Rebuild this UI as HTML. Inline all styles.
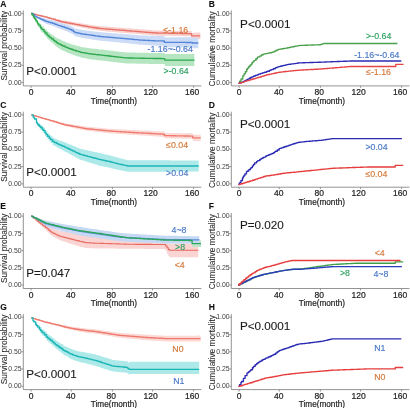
<!DOCTYPE html>
<html><head><meta charset="utf-8"><style>
html,body{margin:0;padding:0;background:#fff;width:410px;height:408px;overflow:hidden}
svg{display:block;font-family:"Liberation Sans",sans-serif;will-change:transform;filter:blur(0.3px)}
</style></head><body>
<svg width="410" height="408" viewBox="0 0 410 408">
<rect width="410" height="408" fill="#fff"/>
<path d="M23.3 10.4V85.9H201.4" fill="none" stroke="#888" stroke-width="0.9"/>
<text x="21.6" y="15.65" font-size="6.9" text-anchor="end" fill="#3d3d3d">1.00</text>
<text x="21.6" y="32.9" font-size="6.9" text-anchor="end" fill="#3d3d3d">0.75</text>
<text x="21.6" y="50.15" font-size="6.9" text-anchor="end" fill="#3d3d3d">0.50</text>
<text x="21.6" y="67.4" font-size="6.9" text-anchor="end" fill="#3d3d3d">0.25</text>
<text x="21.6" y="84.65" font-size="6.9" text-anchor="end" fill="#3d3d3d">0.00</text>
<text x="31.1" y="95" font-size="8.5" text-anchor="middle" fill="#222" stroke="#222" stroke-width="0.2">0</text>
<text x="70.8" y="95" font-size="8.5" text-anchor="middle" fill="#222" stroke="#222" stroke-width="0.2">40</text>
<text x="111.2" y="95" font-size="8.5" text-anchor="middle" fill="#222" stroke="#222" stroke-width="0.2">80</text>
<text x="150.7" y="95" font-size="8.5" text-anchor="middle" fill="#222" stroke="#222" stroke-width="0.2">120</text>
<text x="192.1" y="95" font-size="8.5" text-anchor="middle" fill="#222" stroke="#222" stroke-width="0.2">160</text>
<path d="M21.4 13.6H23.3M21.4 30.85H23.3M21.4 48.1H23.3M21.4 65.35H23.3M21.4 82.6H23.3M31.1 85.9V87.8M71.3 85.9V87.8M112.4 85.9V87.8M152.6 85.9V87.8M193.6 85.9V87.8" fill="none" stroke="#888" stroke-width="0.9"/>
<text x="113.9" y="103.7" font-size="8.2" text-anchor="middle" fill="#1e1e1e" stroke="#1e1e1e" stroke-width="0.2">Time(month)</text>
<text transform="translate(7 45.7) rotate(-90)" font-size="8.3" text-anchor="middle" fill="#2a2a2a" stroke="#2a2a2a" stroke-width="0.08">Survival probability</text>
<text x="0.2" y="6.6" font-size="8.5" font-weight="bold" fill="#111" stroke="#111" stroke-width="0.1">A</text>
<path d="M31.2 13.5H31.97V13.66H33.68V14.01H35.27V14.34H36.2V14.53H37.44V14.79H38.63V15H40.08V15.26H41.7V15.55H42.42V15.67H43.06V15.79H44.75V16.09H45.91V16.34H47.5V16.71H48.1V16.85H49.28V17.13H50.82V17.48H51.72V17.69H53.55V18.11H55.32V18.57H55.96V18.74H56.59V18.91H57.9V19.25H59.72V19.73H60.81V19.94H61.69V20.09H62.84V20.29H63.48V20.4H64.37V20.55H65.54V20.75H66.78V20.96H67.68V21.12H68.58V21.27H69.47V21.43H70.67V21.63H71.64V21.8H72.27V21.91H73.96V22.2H75.28V22.42H76.72V22.67H77.56V22.81H79.45V23.13H81.17V23.43H81.93V23.56H82.96V23.73H84.5V24H86.02V24.25H87.84V24.56H88.99V24.76H90.67V24.98H92.14V25.15H93.13V25.27H94.5V25.44H96.24V25.65H97.94V25.85H99.2V26H100.57V26.14H101.21V26.19H102.13V26.27H103.76V26.39H104.9V26.48H105.73V26.55H107.04V26.65H108.55V26.77H110.03V26.88H111.12V26.97H112.29V27.06H113.55V27.16H115.16V27.28H116.44V27.38H117.55V27.47H118.79V27.57H119.42V27.62H120.08V27.67H121.6V27.79H123.47V27.93H124.84V28.04H125.96V28.13H126.78V28.19H128.03V28.29H129.91V28.43H131.51V28.56H132.81V28.66H134.53V28.79H135.43V28.86H136.7V28.96H138.54V29.1H139.89V29.21H141.08V29.3H142.03V29.37H143.35V29.48H145.19V29.62H145.8V29.67H147.42V29.79H149.08V29.92H150.84V30.06H152.4V30.18H154.05V30.31H155.33V30.39H156.65V30.41H157.81V30.42H158.48V30.43H160.21V30.45H161.55V30.47H162.41V30.48H163.67V30.5H164.9V30.51H165.96V30.53H167.01V30.54H168.31V30.56H169.72V30.57H171.12V30.59H172.32V30.61H172.95V30.61H173.85V30.62H174.68V30.64H176.04V30.66H177.76V30.7H179.4V30.73H181.03V30.77H182.7V30.81H183.63V30.83H185.32V30.86H186.8V30.89H187.51V30.91H188.13V30.92H188.75V30.94H190.33V30.97H191.25V30.92H191.6V32.92H192V32.8H193.41V32.73H194.46V32.68H195.15V32.65H195.95V32.61H197.24V32.55H198.06V32.51H199.01V32.46H200.3V32.4V39.2V39.14H199.01V39.09H198.06V39.05H197.24V38.99H195.95V38.95H195.15V38.92H194.46V38.87H193.41V38.8H192V38.68H191.6V36.47H191.25V36.37H190.33V36.33H188.75V36.31H188.13V36.29H187.51V36.27H186.8V36.23H185.32V36.19H183.63V36.17H182.7V36.12H181.03V36.08H179.4V36.03H177.76V35.99H176.04V35.96H174.68V35.94H173.85V35.93H172.95V35.91H172.32V35.89H171.12V35.87H169.72V35.84H168.31V35.82H167.01V35.8H165.96V35.78H164.9V35.76H163.67V35.74H162.41V35.73H161.55V35.7H160.21V35.67H158.48V35.66H157.81V35.64H156.65V35.62H155.33V35.53H154.05V35.39H152.4V35.26H150.84V35.11H149.08V34.97H147.42V34.83H145.8V34.78H145.19V34.62H143.35V34.51H142.03V34.43H141.08V34.33H139.89V34.21H138.54V34.05H136.7V33.95H135.43V33.87H134.53V33.72H132.81V33.61H131.51V33.47H129.91V33.31H128.03V33.21H126.78V33.13H125.96V33.04H124.84V32.92H123.47V32.76H121.6V32.63H120.08V32.57H119.42V32.52H118.79V32.41H117.55V32.32H116.44V32.21H115.16V32.07H113.55V31.96H112.29V31.86H111.12V31.76H110.03V31.64H108.55V31.51H107.04V31.39H105.73V31.32H104.9V31.22H103.76V31.08H102.13V31H101.21V30.95H100.57V30.77H99.2V30.57H97.94V30.3H96.24V30.02H94.5V29.8H93.13V29.64H92.14V29.4H90.67V29.12H88.99V28.88H87.84V28.5H86.02V28.17H84.5V27.85H82.96V27.63H81.93V27.47H81.17V27.11H79.45V26.72H77.56V26.54H76.72V26.24H75.28V25.96H73.96V25.6H72.27V25.47H71.64V25.26H70.67V25.01H69.47V24.82H68.58V24.63H67.68V24.44H66.78V24.17H65.54V23.93H64.37V23.74H63.48V23.6H62.84V23.36H61.69V23.17H60.81V22.89H59.72V22.21H57.9V21.73H56.59V21.49H55.96V21.25H55.32V20.6H53.55V19.97H51.72V19.66H50.82V19.14H49.28V18.73H48.1V18.52H47.5V17.98H45.91V17.59H44.75V17.11H43.06V16.92H42.42V16.71H41.7V16.24H40.08V15.82H38.63V15.48H37.44V15.09H36.2V14.79H35.27V14.29H33.68V13.75H31.97V13.5H31.2Z" fill="#f9d2cf" stroke="none"/>
<path d="M31.2 13.5H33.04V14.46H34.88V15.42H35.55V15.77H36.26V16.14H37.95V16.67H39.5V17.08H40.97V17.46H41.97V17.72H43.36V18.08H44.75V18.45H46.11V18.83H46.91V19.04H48.07V19.35H49.18V19.64H50.72V20.04H52.62V20.54H54.45V21.06H55.76V21.46H56.94V21.82H57.88V22.11H58.53V22.31H59.17V22.5H60.37V22.86H61.39V23.16H62.48V23.48H64.24V23.99H65.52V24.36H66.85V24.75H67.76V25.03H68.39V25.23H69.41V25.55H70.19V25.85H71.45V26.65H73.35V27.84H74.83V28.67H75.66V28.82H77.43V29.12H79.06V29.4H80.62V29.69H82.39V30.03H83.99V30.23H85.61V30.44H86.67V30.57H88.55V30.81H90.4V31.05H91.21V31.15H92.79V31.35H94.32V31.55H95.52V31.7H96.81V31.86H98.04V32.02H99.85V32.25H101.1V32.35H102.78V32.48H103.84V32.56H105.59V32.69H107.36V32.82H108.56V32.91H109.89V33.01H111.69V33.14H113.23V33.26H114.46V33.35H115.35V33.41H116.37V33.49H117.88V33.6H118.7V33.66H120.48V33.79H121.43V33.87H123.21V34H124.22V34.07H126.06V34.21H127.58V34.33H128.83V34.44H130.11V34.55H131.55V34.67H132.92V34.78H133.92V34.87H134.79V34.94H136.06V35.05H137.87V35.2H139.28V35.32H139.98V35.38H141.65V35.46H143.19V35.52H144.97V35.58H145.82V35.61H147.39V35.67H148.06V35.69H149.51V35.74H150.47V35.78H151.36V35.82H153.1V35.88H153.84V35.91H155.12V35.96H156.83V35.98H157.75V35.99H158.62V36.01H160.37V36.03H161.52V36.04H163.05V36.06H163.69V36.07H164.4V37.38H164.76V37.38H165.58V37.38H167.06V37.38H167.77V37.38H169.61V37.37H170.24V37.37H171.79V37.37H172.42V37.37H173.35V37.37H175.01V37.37H175.81V37.37H176.65V37.37H178.15V37.37H179.25V37.36H179.9V37.36H181.79V37.36H182.59V37.36H183.24V37.36H184.28V37.36H185.68V37.36H187.25V37.36H187.99V37.35H189.03V37.35H189.67V37.35H190.86V37.35H192.3V37.85H192.45V37.85H194.01V37.84H195.79V37.82H197.37V37.81H198.3V37.8V48.2V48.19H197.37V48.18H195.79V48.16H194.01V48.15H192.45V48.15H192.3V47.63H190.86V47.61H189.67V47.6H189.03V47.58H187.99V47.57H187.25V47.55H185.68V47.53H184.28V47.51H183.24V47.5H182.59V47.49H181.79V47.46H179.9V47.45H179.25V47.43H178.15V47.41H176.65V47.4H175.81V47.38H175.01V47.36H173.35V47.34H172.42V47.33H171.79V47.31H170.24V47.3H169.61V47.27H167.77V47.26H167.06V47.24H165.58V47.22H164.76V47.22H164.4V45.9H163.69V45.88H163.05V45.83H161.52V45.8H160.37V45.75H158.62V45.72H157.75V45.7H156.83V45.64H155.12V45.58H153.84V45.54H153.1V45.44H151.36V45.39H150.47V45.33H149.51V45.25H148.06V45.21H147.39V45.12H145.82V45.06H144.97V44.96H143.19V44.87H141.65V44.75H139.98V44.68H139.28V44.53H137.87V44.33H136.06V44.2H134.79V44.1H133.92V43.99H132.92V43.85H131.55V43.69H130.11V43.55H128.83V43.42H127.58V43.26H126.06V43.08H124.22V42.99H123.21V42.81H121.43V42.72H120.48V42.55H118.7V42.47H117.88V42.32H116.37V42.22H115.35V42.14H114.46V42.02H113.23V41.87H111.69V41.69H109.89V41.56H108.56V41.44H107.36V41.27H105.59V41.1H103.84V41H102.78V40.84H101.1V40.71H99.85V40.43H98.04V40.25H96.81V40.05H95.52V39.87H94.32V39.64H92.79V39.41H91.21V39.29H90.4V39.01H88.55V38.73H86.67V38.57H85.61V38.32H83.99V38.08H82.39V37.71H80.62V37.32H79.06V36.9H77.43V36.44H75.66V36.23H74.83V35.27H73.35V33.91H71.45V33.01H70.19V32.64H69.41V32.23H68.39V31.98H67.76V31.62H66.85V31.12H65.52V30.64H64.24V29.98H62.48V29.56H61.39V29.18H60.37V28.72H59.17V28.47H58.53V28.21H57.88V27.84H56.94V27.38H55.76V26.87H54.45V26.19H52.62V25.53H50.72V25H49.18V24.61H48.07V24.21H46.91V23.92H46.11V23.36H44.75V22.49H43.36V21.63H41.97V21H40.97V20.09H39.5V19.12H37.95V17.98H36.26V17.35H35.55V16.75H34.88V15.13H33.04V13.5H31.2Z" fill="#cddcf6" stroke="none"/>
<path d="M31.2 13.5H32.11V14.64H33.42V16.28H34.5V17.63H35.88V19.28H37.3V20.97H37.98V21.79H38.6V22.53H40.29V24.49H41.22V25.44H42.13V26.36H44.02V28.28H45.23V29.51H46.92V31.22H48.14V32.32H49.57V33.34H50.37V33.91H51.79V34.92H53.52V36.15H54.8V37.07H56.37V38.16H57.84V38.87H58.52V39.19H60.11V39.86H61.48V40.45H62.47V40.88H63.11V41.15H64.83V41.9H66.05V42.42H67.58V43.08H69.32V43.66H70.85V44.14H72.65V44.71H73.76V45.06H75.4V45.56H76.58V45.87H78.4V46.36H80.14V46.82H80.87V47.02H81.65V47.17H82.53V47.3H84.38V47.57H85.55V47.75H86.96V47.95H87.96V48.1H89.21V48.28H90.32V48.43H91.37V48.55H92.73V48.7H94.09V48.85H95.87V49.05H97.35V49.21H99.16V49.41H100.88V49.6H102.76V49.82H104.24V49.99H105.05V50.09H106.77V50.29H108.62V50.5H110.4V50.71H111.74V50.86H113.27V51.04H114.14V51.14H115.82V51.34H117.17V51.49H118.14V51.6H118.82V51.68H120.53V51.88H122.42V52.1H123.13V52.18H124.77V52.37H125.91V52.42H126.7V52.43H127.68V52.45H129.28V52.49H131.02V52.52H131.68V52.53H133.07V52.56H133.73V52.57H135.27V52.61H136.3V52.63H138.04V52.66H139.92V52.7H141.17V52.72H143.07V52.76H144.07V52.78H144.77V52.8H146.15V52.82H146.8V52.84H147.65V52.85H148.78V52.88H150.18V52.9H150.98V52.91H151.63V52.92H153.36V52.95H154.37V52.96H156.22V52.98H157.98V53.01H159.07V53.02H160.27V53.04H161.55V53.06H162.98V53.08H164.36V52.91H164.8V54.2H165.69V54.1H167.09V54.1H168.92V54.1H170.17V54.1H171.33V54.1H172.87V54.1H173.78V54.1H174.77V54.1H176.64V54.1H177.92V54.1H179.23V54.1H179.85V54.1H180.99V54.1H182.34V54.1H182.97V54.1H184.37V54.1H185.79V54.1H186.47V54.1H187.88V54.1H189.09V54.1H190.57V54.1H191.63V54.1H193.15V54.1H194.4V54.1V66.1V66.1H193.15V66.1H191.63V66.1H190.57V66.1H189.09V66.1H187.88V66.1H186.47V66.1H185.79V66.1H184.37V66.1H182.97V66.1H182.34V66.1H180.99V66.1H179.85V66.1H179.23V66.1H177.92V66.1H176.64V66.1H174.77V66.1H173.78V66.1H172.87V66.1H171.33V66.1H170.17V66.1H168.92V66.1H167.09V66.1H165.69V66H164.8V64.27H164.36V64.08H162.98V64.06H161.55V64.04H160.27V64.02H159.07V64.01H157.98V63.98H156.22V63.96H154.37V63.95H153.36V63.92H151.63V63.91H150.98V63.9H150.18V63.88H148.78V63.85H147.65V63.84H146.8V63.82H146.15V63.8H144.77V63.78H144.07V63.76H143.07V63.72H141.17V63.7H139.92V63.66H138.04V63.63H136.3V63.61H135.27V63.57H133.73V63.56H133.07V63.53H131.68V63.52H131.02V63.49H129.28V63.45H127.68V63.43H126.7V63.42H125.91V63.37H124.77V63.18H123.13V63.1H122.42V62.88H120.53V62.68H118.82V62.6H118.14V62.49H117.17V62.34H115.82V62.14H114.14V62.04H113.27V61.86H111.74V61.71H110.4V61.5H108.62V61.29H106.77V61.09H105.05V60.99H104.24V60.82H102.76V60.6H100.88V60.41H99.16V60.21H97.35V60.05H95.87V59.85H94.09V59.7H92.73V59.55H91.37V59.43H90.32V59.25H89.21V59H87.96V58.81H86.96V58.54H85.55V58.31H84.38V57.95H82.53V57.78H81.65V57.59H80.87V57.36H80.14V56.82H78.4V56.25H76.58V55.88H75.4V55.3H73.76V54.9H72.65V54.25H70.85V53.7H69.32V53.03H67.58V52.3H66.05V51.72H64.83V50.9H63.11V50.59H62.47V50.12H61.48V49.47H60.11V48.53H58.52V48.08H57.84V47.11H56.37V45.73H54.8V44.59H53.52V43.05H51.79V41.77H50.37V41.06H49.57V39.79H48.14V38.46H46.92V36.45H45.23V35H44.02V32.74H42.13V31.66H41.22V30.54H40.29V27.57H38.6V26.41H37.98V25.13H37.3V22.47H35.88V19.87H34.5V17.79H33.42V15.26H32.11V13.5H31.2Z" fill="#b5e6c1" stroke="none"/>
<path d="M31.2 13.5H31.97V13.7H33.68V14.15H35.27V14.57H36.2V14.81H37.44V15.13H38.63V15.41H40.08V15.75H41.7V16.13H42.42V16.3H43.06V16.45H44.75V16.84H45.91V17.16H47.5V17.62H48.1V17.79H49.28V18.13H50.82V18.57H51.72V18.83H53.55V19.36H55.32V19.91H55.96V20.12H56.59V20.32H57.9V20.73H59.72V21.31H60.81V21.56H61.69V21.72H62.84V21.95H63.48V22.07H64.37V22.24H65.54V22.46H66.78V22.7H67.68V22.87H68.58V23.05H69.47V23.22H70.67V23.45H71.64V23.63H72.27V23.75H73.96V24.08H75.28V24.33H76.72V24.6H77.56V24.76H79.45V25.12H81.17V25.45H81.93V25.6H82.96V25.79H84.5V26.08H86.02V26.38H87.84V26.72H88.99V26.94H90.67V27.19H92.14V27.4H93.13V27.54H94.5V27.73H96.24V27.97H97.94V28.21H99.2V28.39H100.57V28.55H101.21V28.6H102.13V28.67H103.76V28.81H104.9V28.9H105.73V28.97H107.04V29.08H108.55V29.2H110.03V29.32H111.12V29.41H112.29V29.51H113.55V29.61H115.16V29.74H116.44V29.85H117.55V29.94H118.79V30.04H119.42V30.09H120.08V30.15H121.6V30.27H123.47V30.43H124.84V30.54H125.96V30.63H126.78V30.7H128.03V30.8H129.91V30.95H131.51V31.08H132.81V31.19H134.53V31.33H135.43V31.4H136.7V31.51H138.54V31.66H139.89V31.77H141.08V31.87H142.03V31.94H143.35V32.05H145.19V32.2H145.8V32.25H147.42V32.38H149.08V32.52H150.84V32.66H152.4V32.79H154.05V32.92H155.33V33H156.65V33.02H157.81V33.04H158.48V33.05H160.21V33.08H161.55V33.1H162.41V33.11H163.67V33.13H164.9V33.15H165.96V33.16H167.01V33.18H168.31V33.2H169.72V33.22H171.12V33.24H172.32V33.26H172.95V33.27H173.85V33.28H174.68V33.3H176.04V33.33H177.76V33.37H179.4V33.41H181.03V33.45H182.7V33.49H183.63V33.51H185.32V33.55H186.8V33.58H187.51V33.6H188.13V33.62H188.75V33.63H190.33V33.67H191.25V33.69H191.6V35.8H192V35.8H193.41V35.8H194.46V35.8H195.15V35.8H195.95V35.8H197.24V35.8H198.06V35.8H199.01V35.8H200.3V35.8" fill="none" stroke="#e8736a" stroke-width="1.35" stroke-linejoin="round"/>
<path d="M31.2 13.5H33.04V14.8H34.88V16.09H35.55V16.56H36.26V17.06H37.95V17.89H39.5V18.58H40.97V19.23H41.97V19.67H43.36V20.29H44.75V20.9H46.11V21.38H46.91V21.62H48.07V21.98H49.18V22.32H50.72V22.79H52.62V23.37H54.45V23.96H55.76V24.42H56.94V24.83H57.88V25.16H58.53V25.39H59.17V25.61H60.37V26.02H61.39V26.36H62.48V26.73H64.24V27.31H65.52V27.74H66.85V28.19H67.76V28.51H68.39V28.73H69.41V29.09H70.19V29.43H71.45V30.28H73.35V31.56H74.83V32.45H75.66V32.63H77.43V33.01H79.06V33.36H80.62V33.7H82.39V34.05H83.99V34.28H85.61V34.5H86.67V34.65H88.55V34.91H90.4V35.17H91.21V35.28H92.79V35.5H94.32V35.71H95.52V35.88H96.81V36.06H98.04V36.23H99.85V36.48H101.1V36.59H102.78V36.74H103.84V36.83H105.59V36.98H107.36V37.13H108.56V37.23H109.89V37.35H111.69V37.5H113.23V37.64H114.46V37.74H115.35V37.82H116.37V37.91H117.88V38.03H118.7V38.1H120.48V38.26H121.43V38.34H123.21V38.49H124.22V38.58H126.06V38.74H127.58V38.87H128.83V39H130.11V39.12H131.55V39.26H132.92V39.39H133.92V39.49H134.79V39.57H136.06V39.69H137.87V39.87H139.28V40H139.98V40.07H141.65V40.16H143.19V40.24H144.97V40.32H145.82V40.36H147.39V40.44H148.06V40.47H149.51V40.54H150.47V40.58H151.36V40.63H153.1V40.71H153.84V40.74H155.12V40.8H156.83V40.84H157.75V40.86H158.62V40.88H160.37V40.91H161.52V40.94H163.05V40.97H163.69V40.98H164.4V42.3H164.76V42.3H165.58V42.31H167.06V42.32H167.77V42.32H169.61V42.34H170.24V42.34H171.79V42.35H172.42V42.36H173.35V42.36H175.01V42.38H175.81V42.38H176.65V42.39H178.15V42.4H179.25V42.41H179.9V42.41H181.79V42.42H182.59V42.43H183.24V42.44H184.28V42.44H185.68V42.45H187.25V42.46H187.99V42.47H189.03V42.48H189.67V42.48H190.86V42.49H192.3V43H192.45V43H194.01V43H195.79V43H197.37V43H198.3V43" fill="none" stroke="#5585d8" stroke-width="1.35" stroke-linejoin="round"/>
<path d="M31.2 13.5H32.11V14.95H33.42V17.03H34.5V18.75H35.88V20.88H37.3V23.05H37.98V24.1H38.6V25.05H40.29V27.52H41.22V28.55H42.13V29.55H44.02V31.64H45.23V32.98H46.92V34.84H48.14V36.05H49.57V37.2H50.37V37.84H51.79V38.98H53.52V40.37H54.8V41.4H56.37V42.64H57.84V43.47H58.52V43.86H60.11V44.67H61.48V45.29H62.47V45.74H63.11V46.03H64.83V46.81H66.05V47.36H67.58V48.06H69.32V48.68H70.85V49.2H72.65V49.81H73.76V50.18H75.4V50.72H76.58V51.06H78.4V51.59H80.14V52.09H80.87V52.3H81.65V52.48H82.53V52.63H84.38V52.94H85.55V53.14H86.96V53.38H87.96V53.55H89.21V53.77H90.32V53.93H91.37V54.05H92.73V54.2H94.09V54.35H95.87V54.55H97.35V54.71H99.16V54.91H100.88V55.1H102.76V55.32H104.24V55.49H105.05V55.59H106.77V55.79H108.62V56H110.4V56.21H111.74V56.36H113.27V56.54H114.14V56.64H115.82V56.84H117.17V56.99H118.14V57.1H118.82V57.18H120.53V57.38H122.42V57.6H123.13V57.68H124.77V57.87H125.91V57.92H126.7V57.93H127.68V57.95H129.28V57.99H131.02V58.02H131.68V58.03H133.07V58.06H133.73V58.07H135.27V58.11H136.3V58.13H138.04V58.16H139.92V58.2H141.17V58.22H143.07V58.26H144.07V58.28H144.77V58.3H146.15V58.32H146.8V58.34H147.65V58.35H148.78V58.38H150.18V58.4H150.98V58.41H151.63V58.42H153.36V58.45H154.37V58.46H156.22V58.48H157.98V58.51H159.07V58.52H160.27V58.54H161.55V58.56H162.98V58.58H164.36V58.59H164.8V60.1H165.69V60.1H167.09V60.1H168.92V60.1H170.17V60.1H171.33V60.1H172.87V60.1H173.78V60.1H174.77V60.1H176.64V60.1H177.92V60.1H179.23V60.1H179.85V60.1H180.99V60.1H182.34V60.1H182.97V60.1H184.37V60.1H185.79V60.1H186.47V60.1H187.88V60.1H189.09V60.1H190.57V60.1H191.63V60.1H193.15V60.1H194.4V60.1" fill="none" stroke="#2ca94e" stroke-width="1.35" stroke-linejoin="round"/>
<text x="163.3" y="33.1" font-size="8.8" fill="#d4783a" stroke="#d4783a" stroke-width="0.15">≤-1.16</text>
<text x="147.6" y="52.4" font-size="8.8" fill="#4a78c6" stroke="#4a78c6" stroke-width="0.15">-1.16~-0.64</text>
<text x="163.5" y="73.8" font-size="8.8" fill="#2fa062" stroke="#2fa062" stroke-width="0.15">&gt;-0.64</text>
<text x="26.3" y="75.1" font-size="11.7" fill="#1a1a1a" stroke="#1a1a1a" stroke-width="0.1">P&lt;0.0001</text>
<path d="M231.3 10.4V85.9H409.4" fill="none" stroke="#888" stroke-width="0.9"/>
<text x="229.6" y="15.65" font-size="6.9" text-anchor="end" fill="#3d3d3d">1.00</text>
<text x="229.6" y="32.9" font-size="6.9" text-anchor="end" fill="#3d3d3d">0.75</text>
<text x="229.6" y="50.15" font-size="6.9" text-anchor="end" fill="#3d3d3d">0.50</text>
<text x="229.6" y="67.4" font-size="6.9" text-anchor="end" fill="#3d3d3d">0.25</text>
<text x="229.6" y="84.65" font-size="6.9" text-anchor="end" fill="#3d3d3d">0.00</text>
<text x="239.1" y="95" font-size="8.5" text-anchor="middle" fill="#222" stroke="#222" stroke-width="0.2">0</text>
<text x="278.8" y="95" font-size="8.5" text-anchor="middle" fill="#222" stroke="#222" stroke-width="0.2">40</text>
<text x="319.2" y="95" font-size="8.5" text-anchor="middle" fill="#222" stroke="#222" stroke-width="0.2">80</text>
<text x="358.7" y="95" font-size="8.5" text-anchor="middle" fill="#222" stroke="#222" stroke-width="0.2">120</text>
<text x="400.1" y="95" font-size="8.5" text-anchor="middle" fill="#222" stroke="#222" stroke-width="0.2">160</text>
<path d="M229.4 13.6H231.3M229.4 30.85H231.3M229.4 48.1H231.3M229.4 65.35H231.3M229.4 82.6H231.3M239.1 85.9V87.8M279.3 85.9V87.8M320.4 85.9V87.8M360.6 85.9V87.8M401.6 85.9V87.8" fill="none" stroke="#888" stroke-width="0.9"/>
<text x="321.9" y="103.7" font-size="8.2" text-anchor="middle" fill="#1e1e1e" stroke="#1e1e1e" stroke-width="0.2">Time(month)</text>
<text transform="translate(214.9 49) rotate(-90)" font-size="8.3" text-anchor="middle" fill="#2a2a2a" stroke="#2a2a2a" stroke-width="0.08">Cumulative mortality</text>
<text x="208.7" y="6.6" font-size="8.5" font-weight="bold" fill="#111" stroke="#111" stroke-width="0.1">B</text>
<path d="M238.5 83.3H239.69V81.25H241.02V78.95H242.82V75.84H244.02V73.83H245.28V71.73H246.65V69.46H247.49V68.06H248.75V66.49H250.17V64.87H251.8V63H252.52V62.18H253.52V61.16H254.24V60.43H255.89V58.74H257.39V57.29H258.04V56.92H259.92V55.84H261.78V54.79H263.23V54.12H264.63V53.84H265.43V53.69H266.05V53.56H267.34V53.31H268.01V53.18H268.86V53.02H269.78V52.84H270.42V52.71H271.62V52.44H272.79V51.89H274.49V51.1H275.76V50.5H277.19V49.83H278.44V49.4H279.9V49.14H281.1V48.93H282.06V48.76H283.96V48.42H285.85V48.08H287.54V47.77H289.06V47.46H290.07V47.25H290.97V47.06H291.95V46.86H292.64V46.71H294.24V46.38H295.36V46.15H297.06V45.8H298.16V45.57H300.01V45.44H301.71V45.38H302.31V45.36H303.18V45.33H304.96V45.26H306.17V45.21H308.05V45.14H309.17V45.1H309.86V45.08H311.28V45.02H312.89V44.96H313.84V44.93H314.55V44.9H315.59V44.86H317.44V44.8H319.03V44.74H319.78V44.71H320.7V44.42H321.43V44.13H322.11V43.86H323.75V43.5H324.58V43.5H325.9V43.5H327.08V43.5H327.93V43.5H329.48V43.5H330.25V43.5H331.69V43.5H332.44V43.5H333.59V43.5H334.47V43.5H335.42V43.5H337.28V43.5H338.92V43.5H339.92V43.5H341.67V43.5H342.54V43.5H343.66V43.5H345.37V43.5H346.8V43.5H347.53V43.5H349.42V43.5H350.29V43.5H351.23V43.5H352.83V43.5H353.86V43.5H354.85V43.5H355.54V43.5H356.26V43.5H357.62V43.5H358.53V43.5H359.92V43.5H361V43.5H362.19V43.5H364.03V43.5H365.26V43.5H366.61V43.5H368.34V43.5H369.17V43.5H369.98V43.5H371.76V43.5H373.42V43.5H374.34V43.5H375.19V43.5H376.75V43.5H378.57V43.5H379.43V43.5H381.26V43.5H383.01V43.5H384.4V43.5H385.54V43.5H386.28V43.5H386.93V43.5H388.78V43.5H389.69V43.5H391.21V43.5H392.14V43.5H393.81V43.5H395.19V43.5H396.17V43.5H397V43.5H397.4V43.5" fill="none" stroke="#4ba04b" stroke-width="1.35" stroke-linejoin="round"/>
<path d="M238.5 83.3H239.72V82.89H241.17V82.39H242.64V81.89H243.42V81.51H244.04V81.16H245.12V80.55H246.08V80.01H247.73V79.08H249.23V78.24H250.61V77.46H251.94V76.88H253.4V76.29H254.19V75.97H255.36V75.49H256.17V75.16H257.95V74.44H258.63V74.17H260.29V73.63H260.99V73.41H262.48V72.94H263.52V72.61H264.64V72.25H266.34V71.71H266.96V71.49H267.64V71.2H269.43V70.43H270.69V69.89H271.41V69.58H273.3V68.77H275.13V67.99H275.87V67.67H277.02V67.18H277.8V66.84H278.8V66.58H280.21V66.24H281.02V66.04H282.53V65.68H283.2V65.52H284.02V65.32H285.68V64.92H286.8V64.65H287.95V64.42H289.32V64.22H290.54V64.05H291.64V63.89H292.28V63.8H293.82V63.57H295.68V63.31H297.55V63.04H299.01V62.88H300.08V62.85H301.15V62.81H302.65V62.77H304.12V62.72H304.87V62.69H305.78V62.66H306.85V62.63H308.11V62.59H309.77V62.53H311.02V62.49H311.65V62.47H313.32V62.42H314.48V62.38H315.76V62.34H316.64V62.31H317.8V62.27H318.9V62.24H320.51V62.18H321.24V62.15H322.56V62.1H323.39V62.06H324.89V62H325.54V61.98H326.5V61.94H327.55V61.9H328.98V61.84H329.64V61.81H330.84V61.77H331.71V61.73H332.68V61.69H333.9V61.64H335.74V61.57H336.97V61.52H338.81V61.45H339.63V61.41H341.43V61.34H342.5V61.3H343.35V61.27H344.92V61.2H346.71V61.13H347.32V61.11H348.27V61.07H349.87V61.01H350.91V61H351.83V61H352.44V61H353.09V61H354.49V61H356.37V61H358.27V61H359.53V61H360.16V61H361.18V61H362.8V61H364.48V61H365.91V61H366.81V61H368.1V61H369.32V61H370.73V61H371.67V61H373.5V61H375.27V61H376.08V61H377.06V61H378.79V61H379.75V61H381.58V61H382.85V61H384.36V61H385.87V61H386.75V61H387.72V61H388.65V61H390.14V61H391.64V61H392.41V61H394.17V61H395.31V61H396.23V61H397.39V61H399.26V61H400.59V61H401.3V61" fill="none" stroke="#2a2ab4" stroke-width="1.35" stroke-linejoin="round"/>
<path d="M238.5 83.3H239.44V83.02H240.93V82.58H242.42V82.13H244.12V81.62H244.96V81.37H245.86V81.1H246.65V80.87H247.55V80.6H249.1V80.14H249.87V79.91H251.16V79.52H252.04V79.25H253.02V78.96H254.18V78.6H255.87V78.09H257.26V77.67H257.88V77.48H258.84V77.19H259.63V76.95H261.36V76.42H263.02V75.92H264.66V75.42H266.34V74.91H267.91V74.54H269.74V74.15H271.37V73.8H272.31V73.6H274.01V73.23H275.24V72.97H276.83V72.63H278.16V72.37H279.32V72.22H280.39V72.09H281.55V71.94H282.56V71.81H283.31V71.72H284.98V71.51H286.61V71.3H288.49V71.1H289.99V70.97H291.31V70.85H292.89V70.71H293.66V70.64H295.14V70.5H296.32V70.4H297.15V70.32H298.01V70.24H299.29V70.16H300.22V70.1H301.42V70.04H302.8V69.96H303.92V69.9H304.69V69.85H305.93V69.79H306.83V69.73H307.74V69.68H308.59V69.64H309.67V69.58H310.36V69.54H311.81V69.46H313.65V69.35H314.76V69.29H316.29V69.21H318.1V69.11H318.76V69.07H319.54V69.03H321.19V68.9H322.88V68.76H324.31V68.64H325.12V68.57H326.26V68.48H327.99V68.33H329.74V68.19H331.38V68.05H332.25V67.98H333.96V67.84H335.04V67.75H336.57V67.62H337.35V67.55H339.22V67.4H340.6V67.28H342.14V67.16H343.02V67.08H344.42V66.97H345.77V66.85H347.14V66.74H348.21V66.65H349.75V66.52H350.8V66.5H351.78V66.5H352.6V66.5H354.09V66.5H354.83V66.5H355.72V66.5H356.41V66.5H357.85V66.5H359.17V66.5H360.48V66.5H361.13V66.5H362.3V66.5H363.35V66.5H364.07V66.5H364.67V66.5H366.57V66.5H367.33V66.5H368.32V66.5H369.27V66.5H370.65V66.5H371.35V66.5H372.56V66.5H373.63V66.5H375.32V66.5H375.93V66.5H376.96V66.5H378.21V66.5H380.07V66.5H381.34V66.5H382.56V66.5H384.03V66.5H385.01V66.5H385.65V66.5H386.9V66.5H388.69V66.5H390.25V66.5H391.18V66.5H392.67V66.5H394.38V66.5H395.31V66.5H395.8V64.3H396.68V64.3H397.74V64.3H398.66V64.3H399.63V64.3H400.5V64.3H401.55V64.3H402.2V64.3H403.32V64.3H403.5V64.3" fill="none" stroke="#e64545" stroke-width="1.35" stroke-linejoin="round"/>
<text x="366.1" y="39.2" font-size="8.8" fill="#2fa062" stroke="#2fa062" stroke-width="0.15">&gt;-0.64</text>
<text x="354.2" y="57.5" font-size="8.8" fill="#4a78c6" stroke="#4a78c6" stroke-width="0.15">-1.16~-0.64</text>
<text x="366.1" y="74.9" font-size="8.8" fill="#d4783a" stroke="#d4783a" stroke-width="0.15">≤-1.16</text>
<text x="240.1" y="27.6" font-size="11.7" fill="#1a1a1a" stroke="#1a1a1a" stroke-width="0.1">P&lt;0.0001</text>
<path d="M23.3 111.7V187.2H201.4" fill="none" stroke="#888" stroke-width="0.9"/>
<text x="21.6" y="116.95" font-size="6.9" text-anchor="end" fill="#3d3d3d">1.00</text>
<text x="21.6" y="134.2" font-size="6.9" text-anchor="end" fill="#3d3d3d">0.75</text>
<text x="21.6" y="151.45" font-size="6.9" text-anchor="end" fill="#3d3d3d">0.50</text>
<text x="21.6" y="168.7" font-size="6.9" text-anchor="end" fill="#3d3d3d">0.25</text>
<text x="21.6" y="185.95" font-size="6.9" text-anchor="end" fill="#3d3d3d">0.00</text>
<text x="31.1" y="196.3" font-size="8.5" text-anchor="middle" fill="#222" stroke="#222" stroke-width="0.2">0</text>
<text x="70.8" y="196.3" font-size="8.5" text-anchor="middle" fill="#222" stroke="#222" stroke-width="0.2">40</text>
<text x="111.2" y="196.3" font-size="8.5" text-anchor="middle" fill="#222" stroke="#222" stroke-width="0.2">80</text>
<text x="150.7" y="196.3" font-size="8.5" text-anchor="middle" fill="#222" stroke="#222" stroke-width="0.2">120</text>
<text x="192.1" y="196.3" font-size="8.5" text-anchor="middle" fill="#222" stroke="#222" stroke-width="0.2">160</text>
<path d="M21.4 114.9H23.3M21.4 132.15H23.3M21.4 149.4H23.3M21.4 166.65H23.3M21.4 183.9H23.3M31.1 187.2V189.1M71.3 187.2V189.1M112.4 187.2V189.1M152.6 187.2V189.1M193.6 187.2V189.1" fill="none" stroke="#888" stroke-width="0.9"/>
<text x="113.9" y="205" font-size="8.2" text-anchor="middle" fill="#1e1e1e" stroke="#1e1e1e" stroke-width="0.2">Time(month)</text>
<text transform="translate(7 147) rotate(-90)" font-size="8.3" text-anchor="middle" fill="#2a2a2a" stroke="#2a2a2a" stroke-width="0.08">Survival probability</text>
<text x="0.2" y="107.9" font-size="8.5" font-weight="bold" fill="#111" stroke="#111" stroke-width="0.1">C</text>
<path d="M31.3 114.9H32.11V115.11H33.61V115.48H35.04V115.84H36.26V116.15H37.14V116.37H38.77V116.78H40.42V117.2H41.69V117.52H42.94V117.84H43.85V118.06H44.45V118.22H45.54V118.49H46.9V118.84H47.59V119.02H49.22V119.43H50.12V119.66H51.02V119.89H51.68V120.06H53.58V120.54H55.14V120.95H56.87V121.41H58.27V121.78H58.92V121.95H59.95V122.22H61.19V122.55H61.94V122.75H63.78V123.24H64.86V123.44H65.66V123.56H67.32V123.79H68.09V123.9H69.89V124.16H71.08V124.33H72.4V124.52H73.45V124.67H74.68V124.84H75.52V124.96H76.17V125.05H77.89V125.3H78.8V125.43H80.41V125.68H81.28V125.85H83.14V126.2H84.91V126.54H86.49V126.69H88.08V126.84H89.43V126.96H90.98V127.1H91.74V127.17H92.96V127.28H94.64V127.44H95.5V127.52H97.3V127.68H99.05V127.84H100.18V127.95H101.26V128.04H102.44V128.15H103.55V128.25H105.44V128.43H106.54V128.53H107.18V128.58H107.9V128.65H109.43V128.79H111.32V128.91H112.57V128.97H113.81V129.04H115.12V129.11H116.69V129.19H117.58V129.23H118.97V129.3H120.3V129.37H121.71V129.44H122.54V129.49H123.36V129.53H124.42V129.58H126.22V129.68H127.27V129.73H128.65V129.8H129.65V129.85H130.38V129.89H131.07V129.93H132.72V130.01H134.33V130.09H135.42V130.15H136.91V130.22H138.39V130.3H140.16V130.38H142V130.47H143.13V130.53H145.02V130.62H146.87V130.71H148.24V130.78H149.98V130.87H151.22V130.93H152.31V130.99H153.23V131.04H154.97V131.13H155.78V131.17H156.47V131.21H158.12V131.3H159.72V131.38H160.95V131.45H162.64V131.54H163.31V131.57H164.24V131.62H164.4V132.93H165.22V132.94H166.37V132.96H167.19V132.97H167.88V132.98H168.92V132.99H170.69V133.02H172.56V133.04H174.13V133.06H175.36V133.08H176.29V133.09H178.13V133.12H179.41V133.13H180.96V133.15H181.6V133.16H182.47V133.17H184.16V133.2H185.8V133.22H187.54V133.24H188.93V133.26H190.08V133.28H191.44V133.29H192.8V134.86H193.14V134.8H194.14V134.77H195.43V134.74H196.39V134.71H197.99V134.67H198.61V134.65H200.1V134.62H200.7V134.6V141.2V141.18H200.1V141.15H198.61V141.13H197.99V141.09H196.39V141.06H195.43V141.03H194.14V141H193.14V140.94H192.8V138.89H191.44V138.86H190.08V138.83H188.93V138.8H187.54V138.76H185.8V138.72H184.16V138.68H182.47V138.66H181.6V138.65H180.96V138.61H179.41V138.58H178.13V138.54H176.29V138.52H175.36V138.49H174.13V138.46H172.56V138.41H170.69V138.37H168.92V138.35H167.88V138.33H167.19V138.31H166.37V138.29H165.22V138.27H164.4V136.96H164.24V136.9H163.31V136.86H162.64V136.75H160.95V136.68H159.72V136.58H158.12V136.47H156.47V136.43H155.78V136.38H154.97V136.27H153.23V136.21H152.31V136.14H151.22V136.07H149.98V135.95H148.24V135.86H146.87V135.74H145.02V135.61H143.13V135.54H142V135.41H140.16V135.3H138.39V135.2H136.91V135.1H135.42V135.03H134.33V134.92H132.72V134.8H131.07V134.75H130.38V134.7H129.65V134.64H128.65V134.54H127.27V134.47H126.22V134.35H124.42V134.27H123.36V134.22H122.54V134.16H121.71V134.06H120.3V133.97H118.97V133.88H117.58V133.82H116.69V133.71H115.12V133.62H113.81V133.53H112.57V133.45H111.32V133.3H109.43V133.13H107.9V133.05H107.18V132.98H106.54V132.86H105.44V132.66H103.55V132.54H102.44V132.41H101.26V132.29H100.18V132.17H99.05V131.98H97.3V131.78H95.5V131.69H94.64V131.51H92.96V131.37H91.74V131.29H90.98V131.12H89.43V130.98H88.08V130.8H86.49V130.62H84.91V130.26H83.14V129.87H81.28V129.69H80.41V129.33H78.8V129.13H77.89V128.74H76.17V128.59H75.52V128.4H74.68V128.13H73.45V127.89H72.4V127.6H71.08V127.33H69.89V126.92H68.09V126.75H67.32V126.38H65.66V126.2H64.86V125.91H63.78V125.27H61.94V125.01H61.19V124.57H59.95V124.22H58.92V123.99H58.27V123.51H56.87V122.9H55.14V122.37H53.58V121.73H51.68V121.51H51.02V121.21H50.12V120.9H49.22V120.35H47.59V120.12H46.9V119.66H45.54V119.3H44.45V119.1H43.85V118.79H42.94V118.37H41.69V117.95H40.42V117.4H38.77V116.85H37.14V116.56H36.26V116.15H35.04V115.67H33.61V115.17H32.11V114.9H31.3Z" fill="#fcd9d5" stroke="none"/>
<path d="M31.3 114.9H33.15V116.43H33.93V117.09H34.56V118.03H36.46V120.84H37.3V122.09H38.05V123.01H39.5V124.04H40.55V124.9H42.31V126.51H43.21V127.55H45.05V129.99H46.07V131.34H47.45V133.17H49.26V134.89H50.75V136.26H52.55V137.88H54.08V138.5H54.74V138.77H56.48V139.48H57.85V140.02H58.85V140.4H59.7V140.72H61.41V141.37H62.76V141.88H64.58V142.57H66.19V143.18H68.04V143.88H69.38V144.41H70.88V145.04H72.28V145.64H73.22V146.04H75.06V146.84H76.07V147.27H77.68V147.97H79.52V148.76H80.97V149.08H81.75V149.25H83.43V149.62H84.89V149.94H85.73V150.13H86.4V150.27H87.69V150.56H88.33V150.7H90.13V151.1H91.39V151.37H92.66V151.65H93.8V151.9H95.26V152.22H97.05V152.62H98.05V152.84H99.13V153.07H100.49V153.34H101.48V153.57H102.85V153.9H104.16V154.21H105.32V154.49H106.8V154.85H108.08V155.15H108.8V155.33H110.69V155.81H111.75V156.11H112.92V156.44H114.04V156.75H115.85V157.27H117.69V157.78H118.95V158.14H120.07V158.41H120.8V158.57H122.56V158.97H123.38V159.16H124.7V159.45H125.75V159.69H126.78V159.92H127.84V160.16H128.69V160.2H129.34V160.21H130.63V160.21H132.27V160.22H133.71V160.22H134.57V160.23H136.07V160.23H136.74V160.24H137.87V160.24H139.55V160.25H141.35V160.26H142.55V160.26H144.25V160.27H145.5V160.27H146.78V160.28H148.14V160.29H150.03V160.29H151.59V160.3H152.81V160.31H154.35V160.31H155.79V160.32H156.85V160.32H158.47V160.33H160.13V160.34H161.52V160.34H163.35V160.35H163.97V160.35H165.22V160.36H166.65V160.36H167.69V160.37H168.51V160.37H170.01V160.38H171.18V160.38H172.13V160.39H172.78V160.39H174.64V160.4H175.7V160.4H176.45V160.41H177.33V160.41H178.26V160.41H179.99V160.42H180.83V160.42H181.78V160.43H182.51V160.43H183.72V160.44H184.59V160.44H185.64V160.44H187.19V160.45H189V160.46H190.68V160.47H191.33V160.47H192.42V160.47H194.13V160.48H194.77V160.48H195.63V160.49H196.87V160.49H197.97V160.5H198.7V160.5V171.5V171.5H197.97V171.51H196.87V171.51H195.63V171.52H194.77V171.52H194.13V171.53H192.42V171.53H191.33V171.53H190.68V171.54H189V171.55H187.19V171.56H185.64V171.56H184.59V171.56H183.72V171.57H182.51V171.57H181.78V171.58H180.83V171.58H179.99V171.59H178.26V171.59H177.33V171.59H176.45V171.6H175.7V171.6H174.64V171.61H172.78V171.61H172.13V171.62H171.18V171.62H170.01V171.63H168.51V171.63H167.69V171.64H166.65V171.64H165.22V171.65H163.97V171.65H163.35V171.66H161.52V171.66H160.13V171.67H158.47V171.68H156.85V171.68H155.79V171.69H154.35V171.69H152.81V171.7H151.59V171.71H150.03V171.71H148.14V171.72H146.78V171.73H145.5V171.73H144.25V171.74H142.55V171.74H141.35V171.75H139.55V171.76H137.87V171.76H136.74V171.77H136.07V171.77H134.57V171.78H133.71V171.78H132.27V171.79H130.63V171.79H129.34V171.8H128.69V171.77H127.84V171.58H126.78V171.39H125.75V171.19H124.7V170.95H123.38V170.8H122.56V170.48H120.8V170.35H120.07V170.13H118.95V169.83H117.69V169.39H115.85V168.95H114.04V168.68H112.92V168.41H111.75V168.15H110.69V167.75H108.8V167.61H108.08V167.36H106.8V167.06H105.32V166.84H104.16V166.58H102.85V166.31H101.48V166.11H100.49V165.79H99.13V165.45H98.05V165.14H97.05V164.58H95.26V164.12H93.8V163.77H92.66V163.37H91.39V162.98H90.13V162.41H88.33V162.21H87.69V161.8H86.4V161.6H85.73V161.33H84.89V160.87H83.43V160.35H81.75V160.1H80.97V159.65H79.52V158.69H77.68V157.84H76.07V157.31H75.06V156.34H73.22V155.85H72.28V155.12H70.88V154.31H69.38V153.56H68.04V152.55H66.19V151.67H64.58V150.68H62.76V149.94H61.41V149.01H59.7V148.54H58.85V148H57.85V147.23H56.48V146.22H54.74V145.84H54.08V144.97H52.55V143.05H50.75V141.43H49.26V139.41H47.45V137.35H46.07V135.84H45.05V133.08H43.21V131.9H42.31V130H40.55V128.76H39.5V126.89H38.05V125.53H37.3V123.81H36.46V119.9H34.56V118.61H33.93V117.49H33.15V114.9H31.3Z" fill="#ade9e9" stroke="none"/>
<path d="M31.3 114.9H32.11V115.14H33.61V115.58H35.04V116H36.26V116.35H37.14V116.61H38.77V117.09H40.42V117.57H41.69V117.95H42.94V118.31H43.85V118.58H44.45V118.76H45.54V119.08H46.9V119.48H47.59V119.68H49.22V120.17H50.12V120.43H51.02V120.7H51.68V120.89H53.58V121.46H55.14V121.93H56.87V122.46H58.27V122.89H58.92V123.08H59.95V123.4H61.19V123.78H61.94V124.01H63.78V124.57H64.86V124.82H65.66V124.97H67.32V125.27H68.09V125.41H69.89V125.74H71.08V125.96H72.4V126.21H73.45V126.4H74.68V126.62H75.52V126.78H76.17V126.9H77.89V127.21H78.8V127.38H80.41V127.68H81.28V127.86H83.14V128.23H84.91V128.58H86.49V128.75H88.08V128.91H89.43V129.04H90.98V129.2H91.74V129.27H92.96V129.4H94.64V129.56H95.5V129.65H97.3V129.83H99.05V130.01H100.18V130.12H101.26V130.23H102.44V130.34H103.55V130.45H105.44V130.64H106.54V130.75H107.18V130.82H107.9V130.89H109.43V131.04H111.32V131.18H112.57V131.25H113.81V131.33H115.12V131.41H116.69V131.5H117.58V131.55H118.97V131.64H120.3V131.72H121.71V131.8H122.54V131.85H123.36V131.9H124.42V131.96H126.22V132.07H127.27V132.14H128.65V132.22H129.65V132.28H130.38V132.32H131.07V132.36H132.72V132.46H134.33V132.56H135.42V132.62H136.91V132.71H138.39V132.8H140.16V132.9H142V133H143.13V133.07H145.02V133.18H146.87V133.29H148.24V133.37H149.98V133.47H151.22V133.54H152.31V133.6H153.23V133.65H154.97V133.75H155.78V133.8H156.47V133.84H158.12V133.94H159.72V134.03H160.95V134.1H162.64V134.2H163.31V134.24H164.24V134.29H164.4V135.6H165.22V135.61H166.37V135.64H167.19V135.65H167.88V135.66H168.92V135.68H170.69V135.71H172.56V135.75H174.13V135.78H175.36V135.8H176.29V135.82H178.13V135.85H179.41V135.87H180.96V135.9H181.6V135.91H182.47V135.93H184.16V135.96H185.8V135.99H187.54V136.02H188.93V136.05H190.08V136.07H191.44V136.09H192.8V137.9H193.14V137.9H194.14V137.9H195.43V137.9H196.39V137.9H197.99V137.9H198.61V137.9H200.1V137.9H200.7V137.9" fill="none" stroke="#ee7a6d" stroke-width="1.35" stroke-linejoin="round"/>
<path d="M31.3 114.9H33.15V116.96H33.93V117.85H34.56V118.97H36.46V122.32H37.3V123.81H38.05V124.95H39.5V126.4H40.55V127.45H42.31V129.21H43.21V130.31H45.05V132.92H46.07V134.35H47.45V136.29H49.26V138.16H50.75V139.65H52.55V141.43H54.08V142.17H54.74V142.5H56.48V143.35H57.85V144.01H58.85V144.47H59.7V144.86H61.41V145.65H62.76V146.28H64.58V147.12H66.19V147.86H68.04V148.72H69.38V149.36H70.88V150.08H72.28V150.75H73.22V151.19H75.06V152.08H76.07V152.56H77.68V153.33H79.52V154.21H80.97V154.59H81.75V154.8H83.43V155.25H84.89V155.64H85.73V155.86H86.4V156.04H87.69V156.38H88.33V156.55H90.13V157.04H91.39V157.37H92.66V157.71H93.8V158.01H95.26V158.4H97.05V158.88H98.05V159.15H99.13V159.43H100.49V159.73H101.48V159.94H102.85V160.24H104.16V160.53H105.32V160.78H106.8V161.1H108.08V161.38H108.8V161.54H110.69V161.98H111.75V162.26H112.92V162.56H114.04V162.85H115.85V163.33H117.69V163.8H118.95V164.14H120.07V164.38H120.8V164.53H122.56V164.89H123.38V165.06H124.7V165.32H125.75V165.54H126.78V165.75H127.84V165.97H128.69V166H129.34V166H130.63V166H132.27V166H133.71V166H134.57V166H136.07V166H136.74V166H137.87V166H139.55V166H141.35V166H142.55V166H144.25V166H145.5V166H146.78V166H148.14V166H150.03V166H151.59V166H152.81V166H154.35V166H155.79V166H156.85V166H158.47V166H160.13V166H161.52V166H163.35V166H163.97V166H165.22V166H166.65V166H167.69V166H168.51V166H170.01V166H171.18V166H172.13V166H172.78V166H174.64V166H175.7V166H176.45V166H177.33V166H178.26V166H179.99V166H180.83V166H181.78V166H182.51V166H183.72V166H184.59V166H185.64V166H187.19V166H189V166H190.68V166H191.33V166H192.42V166H194.13V166H194.77V166H195.63V166H196.87V166H197.97V166H198.7V166" fill="none" stroke="#1cb5b5" stroke-width="1.35" stroke-linejoin="round"/>
<text x="166.1" y="147.9" font-size="8.8" fill="#d4783a" stroke="#d4783a" stroke-width="0.15">≤0.04</text>
<text x="166.1" y="176.3" font-size="8.8" fill="#4a78c6" stroke="#4a78c6" stroke-width="0.15">&gt;0.04</text>
<text x="26.3" y="176.1" font-size="11.7" fill="#1a1a1a" stroke="#1a1a1a" stroke-width="0.1">P&lt;0.0001</text>
<path d="M231.3 111.7V187.2H409.4" fill="none" stroke="#888" stroke-width="0.9"/>
<text x="229.6" y="116.95" font-size="6.9" text-anchor="end" fill="#3d3d3d">1.00</text>
<text x="229.6" y="134.2" font-size="6.9" text-anchor="end" fill="#3d3d3d">0.75</text>
<text x="229.6" y="151.45" font-size="6.9" text-anchor="end" fill="#3d3d3d">0.50</text>
<text x="229.6" y="168.7" font-size="6.9" text-anchor="end" fill="#3d3d3d">0.25</text>
<text x="229.6" y="185.95" font-size="6.9" text-anchor="end" fill="#3d3d3d">0.00</text>
<text x="239.1" y="196.3" font-size="8.5" text-anchor="middle" fill="#222" stroke="#222" stroke-width="0.2">0</text>
<text x="278.8" y="196.3" font-size="8.5" text-anchor="middle" fill="#222" stroke="#222" stroke-width="0.2">40</text>
<text x="319.2" y="196.3" font-size="8.5" text-anchor="middle" fill="#222" stroke="#222" stroke-width="0.2">80</text>
<text x="358.7" y="196.3" font-size="8.5" text-anchor="middle" fill="#222" stroke="#222" stroke-width="0.2">120</text>
<text x="400.1" y="196.3" font-size="8.5" text-anchor="middle" fill="#222" stroke="#222" stroke-width="0.2">160</text>
<path d="M229.4 114.9H231.3M229.4 132.15H231.3M229.4 149.4H231.3M229.4 166.65H231.3M229.4 183.9H231.3M239.1 187.2V189.1M279.3 187.2V189.1M320.4 187.2V189.1M360.6 187.2V189.1M401.6 187.2V189.1" fill="none" stroke="#888" stroke-width="0.9"/>
<text x="321.9" y="205" font-size="8.2" text-anchor="middle" fill="#1e1e1e" stroke="#1e1e1e" stroke-width="0.2">Time(month)</text>
<text transform="translate(214.9 150.3) rotate(-90)" font-size="8.3" text-anchor="middle" fill="#2a2a2a" stroke="#2a2a2a" stroke-width="0.08">Cumulative mortality</text>
<text x="208.7" y="107.9" font-size="8.5" font-weight="bold" fill="#111" stroke="#111" stroke-width="0.1">D</text>
<path d="M238.5 184.6H239.12V183.57H239.86V182.31H240.97V180.45H242.46V177.98H243.24V176.69H243.99V175.45H244.89V173.93H246.47V171.6H247.27V170.95H248.83V169.68H250.29V168.49H251.07V167.55H252.36V165.89H253.55V164.38H254.68V162.92H256.58V161.59H257.3V161.09H257.92V160.65H259.75V159.46H260.87V158.81H261.73V158.31H262.76V157.71H263.83V157.08H265.67V156.11H266.55V155.73H267.43V155.35H268.79V154.76H270.1V154.19H271.94V153.39H273.63V152.57H274.69V151.82H275.56V151.21H277.25V150.02H279.13V148.69H279.77V148.37H281.33V147.84H283.06V147.26H284.5V146.76H285.39V146.46H287.02V145.91H288.57V145.38H289.42V145.1H290.86V144.63H291.74V144.34H292.39V144.13H293.43V143.79H294.47V143.45H295.58V143.09H297.02V142.62H298.71V142.29H300.56V142.09H302.43V141.88H304.32V141.67H305.95V141.52H306.94V141.43H307.77V141.36H309.18V141.24H310.49V141.13H311.97V141H312.69V140.94H313.54V140.87H315.34V140.72H316.72V140.6H318.23V140.47H318.95V140.41H320.07V140.31H321.85V140.13H323.3V139.92H325.19V139.64H326.04V139.51H327.23V139.34H328.87V139.09H330.05V138.92H331.68V138.68H333.01V138.6H333.76V138.6H334.49V138.6H336.37V138.6H337.12V138.6H337.97V138.6H339.01V138.6H340.54V138.6H342.25V138.6H343.47V138.6H344.71V138.6H346.34V138.6H347.3V138.6H348.38V138.6H349.78V138.6H351.21V138.6H351.86V138.6H352.6V138.6H353.38V138.6H354.93V138.6H356.43V138.6H358.29V138.6H359.89V138.6H360.82V138.6H362.42V138.6H364.3V138.6H365.35V138.6H365.96V138.6H367.05V138.6H368.02V138.6H368.85V138.6H369.51V138.6H370.27V138.6H371.99V138.6H372.66V138.6H374.06V138.6H374.93V138.6H375.78V138.6H377.44V138.6H378.43V138.6H379.27V138.6H380.46V138.6H381.97V138.6H383.25V138.6H384.96V138.6H386.09V138.6H387.37V138.6H388.9V138.6H390.1V138.6H391.63V138.6H392.84V138.6H393.61V138.6H394.37V138.6H395.99V138.6H397.56V138.6H399.39V138.6H400.88V138.6H401.9V138.6" fill="none" stroke="#2a2ab4" stroke-width="1.35" stroke-linejoin="round"/>
<path d="M238.5 184.6H239.2V184.38H240.08V184.1H241.07V183.79H242.84V183.24H244.09V182.85H245.62V182.38H246.35V182.16H247.62V181.77H249.31V181.25H250.59V180.86H252.42V180.29H254.17V179.71H255.25V179.35H255.85V179.15H257.43V178.62H258.2V178.37H258.81V178.16H260.36V177.65H262.05V177.08H263.74V176.52H265.58V176.02H266.44V175.91H267.15V175.81H267.91V175.71H269.78V175.46H270.52V175.36H271.33V175.25H271.96V175.17H272.62V175.08H273.27V174.99H274.33V174.8H275.14V174.65H276.14V174.48H277.95V174.15H278.77V174.01H280.43V173.71H281.99V173.43H283.33V173.2H284.67V173.07H286.28V172.91H287.64V172.78H288.54V172.7H289.57V172.6H290.48V172.51H291.6V172.4H293.49V172.22H294.64V172.11H295.33V172.05H296.55V171.93H298.21V171.77H299.39V171.66H300.9V171.51H301.62V171.43H302.3V171.36H303.76V171.21H304.42V171.14H305.42V171.04H306.52V170.93H307.37V170.84H308.01V170.77H308.62V170.71H310.46V170.52H311.96V170.37H313.79V170.18H315.03V170.05H316.87V169.86H318.59V169.68H320V169.54H321.28V169.41H322.54V169.28H323.43V169.18H324.52V169.07H326.06V168.91H326.92V168.82H328.62V168.65H329.88V168.52H331.27V168.38H332.94V168.27H334.38V168.21H335.16V168.18H336.08V168.15H336.68V168.13H337.32V168.1H339.15V168.03H340.52V167.98H342.38V167.91H344V167.85H345.01V167.82H346.87V167.75H348.67V167.68H349.86V167.64H350.57V167.61H351.58V167.57H352.4V167.54H353.47V167.5H354.18V167.48H355.71V167.42H357.58V167.35H358.45V167.32H360.07V167.26H361.43V167.21H362.66V167.16H364.44V167.1H365.53V167.05H367.19V167H367.84V167H369.69V167H370.53V167H371.14V167H372.88V167H374.42V167H375.9V167H377.49V167H378.58V167H379.33V167H380.35V167H382.19V167H384.06V167H384.96V167H386.13V167H387.32V167H389.1V167H389.7V167H391.38V167H392.31V167H393.62V167H394.39V167H395.1V167H395.2V165.4H396.85V165.4H398.1V165.4H399.97V165.4H401.69V165.4H403.2V165.4" fill="none" stroke="#e63c3c" stroke-width="1.35" stroke-linejoin="round"/>
<text x="365.4" y="149.8" font-size="8.8" fill="#4a78c6" stroke="#4a78c6" stroke-width="0.15">&gt;0.04</text>
<text x="365.4" y="177.4" font-size="8.8" fill="#d4783a" stroke="#d4783a" stroke-width="0.15">≤0.04</text>
<text x="240" y="128.2" font-size="11.7" fill="#1a1a1a" stroke="#1a1a1a" stroke-width="0.1">P&lt;0.0001</text>
<path d="M23.3 213V288.5H201.4" fill="none" stroke="#888" stroke-width="0.9"/>
<text x="21.6" y="218.25" font-size="6.9" text-anchor="end" fill="#3d3d3d">1.00</text>
<text x="21.6" y="235.5" font-size="6.9" text-anchor="end" fill="#3d3d3d">0.75</text>
<text x="21.6" y="252.75" font-size="6.9" text-anchor="end" fill="#3d3d3d">0.50</text>
<text x="21.6" y="270" font-size="6.9" text-anchor="end" fill="#3d3d3d">0.25</text>
<text x="21.6" y="287.25" font-size="6.9" text-anchor="end" fill="#3d3d3d">0.00</text>
<text x="31.1" y="297.6" font-size="8.5" text-anchor="middle" fill="#222" stroke="#222" stroke-width="0.2">0</text>
<text x="70.8" y="297.6" font-size="8.5" text-anchor="middle" fill="#222" stroke="#222" stroke-width="0.2">40</text>
<text x="111.2" y="297.6" font-size="8.5" text-anchor="middle" fill="#222" stroke="#222" stroke-width="0.2">80</text>
<text x="150.7" y="297.6" font-size="8.5" text-anchor="middle" fill="#222" stroke="#222" stroke-width="0.2">120</text>
<text x="192.1" y="297.6" font-size="8.5" text-anchor="middle" fill="#222" stroke="#222" stroke-width="0.2">160</text>
<path d="M21.4 216.2H23.3M21.4 233.45H23.3M21.4 250.7H23.3M21.4 267.95H23.3M21.4 285.2H23.3M31.1 288.5V290.4M71.3 288.5V290.4M112.4 288.5V290.4M152.6 288.5V290.4M193.6 288.5V290.4" fill="none" stroke="#888" stroke-width="0.9"/>
<text x="113.9" y="306.3" font-size="8.2" text-anchor="middle" fill="#1e1e1e" stroke="#1e1e1e" stroke-width="0.2">Time(month)</text>
<text transform="translate(7 248.3) rotate(-90)" font-size="8.3" text-anchor="middle" fill="#2a2a2a" stroke="#2a2a2a" stroke-width="0.08">Survival probability</text>
<text x="0.2" y="209.2" font-size="8.5" font-weight="bold" fill="#111" stroke="#111" stroke-width="0.1">E</text>
<path d="M31.2 216.1H32.3V216.71H33.2V217.21H34.01V217.67H35.8V218.66H37.15V219.41H38.65V220.1H39.97V220.71H41.07V221.21H42.62V221.93H43.97V222.55H45.58V223.44H47.04V224.52H48.73V225.76H49.9V226.62H50.71V227.21H51.5V227.7H53.04V228.35H53.86V228.7H55.31V229.32H56.72V229.92H57.39V230.21H59.01V230.9H59.66V231.06H61.38V231.33H63.08V231.61H63.96V231.75H65.5V232H67.05V232.25H67.82V232.37H69.29V232.61H70.05V232.74H71.83V233.03H73.33V233.28H75.2V233.59H75.87V233.69H76.89V233.84H78.29V234.06H79.68V234.27H80.52V234.46H82.27V234.93H83.97V235.38H84.97V235.65H85.76V235.79H87.22V235.93H88.35V236.04H89.82V236.17H91.06V236.29H92.17V236.39H92.8V236.45H93.57V236.52H94.77V236.63H96.32V236.73H97.47V236.8H99.04V236.89H100.34V236.97H102.08V237.07H103.54V237.16H104.55V237.22H105.33V237.27H106.02V237.31H106.67V237.35H108.39V237.45H110.13V237.56H111.71V237.66H112.45V237.7H113.91V237.79H114.67V237.84H116.43V237.95H117.88V238.04H119.46V238.14H120.85V238.23H121.99V238.3H123.69V238.41H125.54V238.52H126.46V238.58H127.63V238.65H129.18V238.75H130.66V238.81H131.8V238.84H132.98V238.86H134.84V238.9H135.8V238.92H136.67V238.94H138.17V238.97H139.13V238.98H140.89V239.02H141.92V239.04H143.72V239.08H144.81V239.1H146.56V239.14H148.14V239.17H149.69V239.2H150.57V239.22H151.38V239.23H152.02V239.25H152.86V239.26H154.33V239.29H155.01V239.31H155.92V239.32H157.25V239.35H158.06V239.37H159.08V239.39H159.98V239.41H161.46V239.44H162.21V239.45H164.11V239.49H165.49V240.39H167.02V241.92H168.33V243.23H169.58V243.69H171.44V243.67H173.21V243.66H174.87V243.64H175.51V243.63H176.88V243.62H178.7V243.6H180.13V243.58H181.4V243.57H182.84V243.56H183.67V243.55H185.22V243.53H186.84V243.52H187.53V243.51H188.8V243.5H190.17V243.48H191.23V243.47H192.71V243.46H194.51V243.44H196.29V243.42H197.29V243.41H198.09V243.4H198.3V243.4V257.2V257.2H198.09V257.2H197.29V257.2H196.29V257.2H194.51V257.2H192.71V257.2H191.23V257.2H190.17V257.2H188.8V257.2H187.53V257.2H186.84V257.2H185.22V257.2H183.67V257.2H182.84V257.2H181.4V257.2H180.13V257.2H178.7V257.2H176.88V257.2H175.51V257.2H174.87V257.2H173.21V257.2H171.44V257.2H169.58V256.29H168.33V253.72H167.02V250.74H165.49V249H164.11V248.99H162.21V248.98H161.46V248.97H159.98V248.97H159.08V248.96H158.06V248.96H157.25V248.95H155.92V248.94H155.01V248.94H154.33V248.93H152.86V248.93H152.02V248.92H151.38V248.92H150.57V248.91H149.69V248.9H148.14V248.9H146.56V248.89H144.81V248.88H143.72V248.87H141.92V248.86H140.89V248.85H139.13V248.85H138.17V248.84H136.67V248.83H135.8V248.83H134.84V248.82H132.98V248.81H131.8V248.8H130.66V248.79H129.18V248.77H127.63V248.76H126.46V248.74H125.54V248.72H123.69V248.7H121.99V248.69H120.85V248.67H119.46V248.65H117.88V248.63H116.43V248.61H114.67V248.6H113.91V248.58H112.45V248.57H111.71V248.55H110.13V248.53H108.39V248.51H106.67V248.51H106.02V248.5H105.33V248.49H104.55V248.48H103.54V248.47H102.08V248.45H100.34V248.44H99.04V248.42H97.47V248.41H96.32V248.39H94.77V248.34H93.57V248.31H92.8V248.28H92.17V248.23H91.06V248.18H89.82V248.12H88.35V248.07H87.22V248.01H85.76V247.9H84.97V247.68H83.97V247.31H82.27V246.93H80.52V246.72H79.68V246.29H78.29V245.85H76.89V245.54H75.87V245.33H75.2V244.73H73.33V244.25H71.83V243.68H70.05V243.43H69.29V242.96H67.82V242.71H67.05V242.22H65.5V241.73H63.96V241.45H63.08V240.91H61.38V240.36H59.66V240.1H59.01V239.16H57.39V238.76H56.72V237.94H55.31V237.09H53.86V236.62H53.04V235.72H51.5V235.1H50.71V234.39H49.9V233.34H48.73V231.84H47.04V230.54H45.58V229.02H43.97V227.72H42.62V226.22H41.07V225.16H39.97V223.88H38.65V222.43H37.15V221H35.8V219.09H34.01V218.22H33.2V217.27H32.3V216.1H31.2Z" fill="#fad3d3" stroke="none"/>
<path d="M31.2 216.1H31.85V216.37H33.36V217H34.14V217.33H35.34V217.83H36.82V218.44H38.45V219.12H39.64V219.61H40.88V220.13H41.51V220.4H42.67V220.88H43.76V221.33H45.46V221.95H46.77V222.18H48.36V222.45H49.52V222.66H50.35V222.82H52.06V223.24H53.72V223.64H54.81V223.91H55.54V224.08H56.8V224.39H58.05V224.69H59.65V225.08H61.03V225.42H62.29V225.71H63.63V225.97H64.72V226.17H65.39V226.3H66.07V226.43H67.89V226.77H69.58V227.09H70.57V227.28H72.32V227.61H73.6V227.85H74.33V227.99H76.05V228.31H77.41V228.57H79.22V228.91H80.7V229.1H81.42V229.19H82.83V229.37H84.46V229.58H86.23V229.81H87.26V229.94H88.54V230.11H90.06V230.3H90.87V230.41H92.58V230.62H94.19V230.83H94.86V230.92H96.22V231.09H97.3V231.23H98.14V231.34H99.53V231.54H101.39V231.82H102.71V232.01H103.46V232.13H104.7V232.31H106.31V232.56H108.15V232.83H109.68V233.06H110.34V233.16H112.19V233.44H113.58V233.65H114.28V233.75H115.05V233.87H115.76V233.97H117.23V234.19H118.03V234.31H119.68V234.56H120.42V234.67H121.71V234.87H122.89V235.04H123.54V235.14H124.14V235.23H125.92V235.5H127.79V235.72H128.55V235.76H130.1V235.85H131.99V235.95H133.76V236.05H135.51V236.14H136.55V236.2H138.09V236.28H139.33V236.35H141.15V236.45H142.67V236.53H144.36V236.63H146.08V236.72H147.18V236.78H148.7V236.86H149.43V236.9H150.29V236.95H152.11V237.04H153.24V237.1H154.73V237.18H156.08V237.25H157.01V237.29H158.38V237.36H160.16V237.46H161.19V237.51H162.24V237.56H163.08V237.61H163.91V237.65H165.59V237.74H167.11V237.79H168.96V237.8H170.43V237.82H172.28V237.83H173.17V237.84H174.01V237.85H174.89V237.85H175.99V237.86H177.88V237.88H178.77V237.89H179.96V237.9H180.64V237.9H181.28V237.91H182.59V237.92H183.99V237.93H185.25V237.94H187.04V237.96H188.76V237.97H190.6V237.99H191.95V238H192.1V240.3H192.89V240.29H193.66V240.28H195.25V240.26H196.05V240.26H196.66V240.25H198.17V240.23H198.93V240.22H200.34V240.21H201V240.2V247V246.99H200.34V246.98H198.93V246.97H198.17V246.95H196.66V246.94H196.05V246.94H195.25V246.92H193.66V246.91H192.89V246.9H192.1V243H191.95V242.97H190.6V242.92H188.76V242.89H187.04V242.84H185.25V242.82H183.99V242.78H182.59V242.75H181.28V242.74H180.64V242.72H179.96V242.7H178.77V242.68H177.88V242.63H175.99V242.61H174.89V242.59H174.01V242.57H173.17V242.55H172.28V242.51H170.43V242.47H168.96V242.43H167.11V242.36H165.59V242.25H163.91V242.19H163.08V242.14H162.24V242.07H161.19V242H160.16V241.88H158.38V241.79H157.01V241.73H156.08V241.64H154.73V241.55H153.24V241.47H152.11V241.35H150.29V241.3H149.43V241.25H148.7V241.16H147.18V241.09H146.08V240.98H144.36V240.88H142.67V240.78H141.15V240.67H139.33V240.59H138.09V240.49H136.55V240.43H135.51V240.32H133.76V240.21H131.99V240.09H130.1V239.99H128.55V239.95H127.79V239.71H125.92V239.43H124.14V239.33H123.54V239.23H122.89V239.04H121.71V238.84H120.42V238.72H119.68V238.46H118.03V238.33H117.23V238.1H115.76V237.99H115.05V237.87H114.28V237.75H113.58V237.54H112.19V237.24H110.34V237.14H109.68V236.9H108.15V236.61H106.31V236.35H104.7V236.15H103.46V236.04H102.71V235.83H101.39V235.53H99.53V235.3H98.14V235.18H97.3V235.02H96.22V234.81H94.86V234.72H94.19V234.48H92.58V234.22H90.87V234.1H90.06V233.88H88.54V233.69H87.26V233.53H86.23V233.27H84.46V233.03H82.83V232.82H81.42V232.71H80.7V232.49H79.22V232.12H77.41V231.83H76.05V231.48H74.33V231.32H73.6V231.06H72.32V230.69H70.57V230.48H69.58V230.13H67.89V229.75H66.07V229.61H65.39V229.47H64.72V229.24H63.63V228.96H62.29V228.64H61.03V228.28H59.65V227.86H58.05V227.53H56.8V227.19H55.54V227H54.81V226.72H53.72V226.28H52.06V225.83H50.35V225.58H49.52V225.19H48.36V224.67H46.77V224.23H45.46V223.33H43.76V222.71H42.67V222.04H41.51V221.68H40.88V220.96H39.64V220.28H38.45V219.34H36.82V218.49H35.34V217.8H34.14V217.34H33.36V216.47H31.85V216.1H31.2Z" fill="#bfe6cc" stroke="none"/>
<path d="M31.2 216.1H32.63V216.56H33.26V216.76H34.22V217.07H35.11V217.36H36.67V217.86H38.15V218.34H39.91V218.91H40.62V219.14H41.77V219.51H42.41V219.71H43.29V220H44.55V220.4H45.18V220.61H46.04V220.79H47.49V221.1H48.8V221.37H49.68V221.56H51.05V221.85H52.7V222.19H53.31V222.32H54.96V222.67H56.46V222.98H57.51V223.2H58.31V223.37H60.15V223.76H61.19V223.97H61.91V224.13H62.64V224.25H64.34V224.53H65.72V224.75H67.37V225.02H68.92V225.27H70.22V225.48H72.08V225.78H73.18V225.96H74.49V226.17H76.17V226.44H77.58V226.67H79.3V226.94H80.65V227.12H82.16V227.35H82.82V227.45H83.72V227.59H84.69V227.74H85.4V227.85H86.3V227.98H87.03V228.1H87.99V228.24H89.42V228.46H90.49V228.63H91.58V228.79H92.45V228.93H93.4V229.07H95.21V229.35H96.66V229.57H98.05V229.78H98.87V229.91H100.42V230.14H101.23V230.26H102.32V230.42H104.21V230.71H105.64V230.92H106.97V231.12H108.46V231.34H110.15V231.6H111.76V231.84H112.66V231.97H113.3V232.07H114.31V232.22H115.26V232.36H116.13V232.49H117.96V232.77H119.7V233.03H120.71V233.11H122.16V233.2H123.27V233.27H125.06V233.37H126.26V233.45H127.2V233.5H128.12V233.56H129.45V233.64H130.39V233.69H131.75V233.77H133.52V233.88H134.64V233.95H135.53V234H137.42V234.11H138.68V234.19H139.4V234.23H140.06V234.27H140.81V234.31H142.22V234.4H143.85V234.5H145V234.56H145.68V234.6H146.78V234.67H148.67V234.78H149.96V234.86H151.82V234.98H153.54V235.09H154.16V235.13H155.7V235.22H157.18V235.32H158.48V235.4H159.43V235.46H160.86V235.55H161.61V235.6H162.77V235.62H163.96V235.64H165.8V235.67H167.54V235.71H168.48V235.72H169.73V235.75H170.56V235.76H172.35V235.8H174.08V235.83H175.07V235.85H176.5V235.87H177.89V235.9H178.69V235.92H180.28V235.95H181.58V235.97H183.2V236H184.49V236.02H185.09V236.04H186.11V236.05H186.73V236.07H188.54V236.1H190.28V236.13H191.96V236.16H192.96V236.18H193.64V236.2H195.38V236.23H197.21V236.26H197.92V236.28H199.15V236.3H199.2V236.3V243.5V243.5H199.15V243.5H197.92V243.5H197.21V243.49H195.38V243.49H193.64V243.48H192.96V243.48H191.96V243.48H190.28V243.47H188.54V243.47H186.73V243.47H186.11V243.46H185.09V243.46H184.49V243.46H183.2V243.46H181.58V243.45H180.28V243.45H178.69V243.45H177.89V243.44H176.5V243.44H175.07V243.44H174.08V243.43H172.35V243.43H170.56V243.43H169.73V243.42H168.48V243.42H167.54V243.42H165.8V243.41H163.96V243.41H162.77V243.41H161.61V243.38H160.86V243.31H159.43V243.26H158.48V243.2H157.18V243.13H155.7V243.06H154.16V243.03H153.54V242.95H151.82V242.86H149.96V242.79H148.67V242.7H146.78V242.64H145.68V242.61H145V242.55H143.85V242.46H142.22V242.39H140.81V242.35H140.06V242.32H139.4V242.28H138.68V242.22H137.42V242.12H135.53V242.08H134.64V242.02H133.52V241.93H131.75V241.86H130.39V241.81H129.45V241.74H128.12V241.7H127.2V241.65H126.26V241.59H125.06V241.5H123.27V241.44H122.16V241.36H120.71V241.29H119.7V241.04H117.96V240.78H116.13V240.66H115.26V240.53H114.31V240.38H113.3V240.29H112.66V240.17H111.76V239.94H110.15V239.7H108.46V239.49H106.97V239.3H105.64V239.1H104.21V238.83H102.32V238.68H101.23V238.56H100.42V238.35H98.87V238.23H98.05V238.03H96.66V237.82H95.21V237.56H93.4V237.42H92.45V237.29H91.58V237.14H90.49V236.98H89.42V236.78H87.99V236.64H87.03V236.53H86.3V236.4H85.4V236.3H84.69V236.16H83.72V236.03H82.82V235.93H82.16V235.71H80.65V235.49H79.3V235.09H77.58V234.76H76.17V234.36H74.49V234.05H73.18V233.79H72.08V233.35H70.22V233.04H68.92V232.68H67.37V232.29H65.72V231.96H64.34V231.56H62.64V231.38H61.91V231.18H61.19V230.88H60.15V230.36H58.31V230.13H57.51V229.83H56.46V229.41H54.96V228.94H53.31V228.76H52.7V228.29H51.05V227.91H49.68V227.65H48.8V227.28H47.49V226.87H46.04V226.63H45.18V226.21H44.55V225.25H43.29V224.58H42.41V224.1H41.77V223.23H40.62V222.69H39.91V221.36H38.15V220.24H36.67V219.06H35.11V218.39H34.22V217.66H33.26V217.18H32.63V216.1H31.2Z" fill="#c5d8f4" stroke="none"/>
<path d="M31.2 216.1H32.3V217.03H33.2V217.79H34.01V218.48H35.8V220H37.15V221.14H38.65V222.26H39.97V223.25H41.07V224.07H42.62V225.24H43.97V226.25H45.58V227.49H47.04V228.69H48.73V230.08H49.9V231.04H50.71V231.69H51.5V232.25H53.04V233.04H53.86V233.46H55.31V234.21H56.72V234.93H57.39V235.27H59.01V236.1H59.66V236.31H61.38V236.74H63.08V237.16H63.96V237.37H65.5V237.76H67.05V238.14H67.82V238.33H69.29V238.7H70.05V238.89H71.83V239.33H73.33V239.71H75.2V240.18H75.87V240.34H76.89V240.58H78.29V240.91H79.68V241.24H80.52V241.44H82.27V241.86H83.97V242.26H84.97V242.5H85.76V242.62H87.22V242.71H88.35V242.78H89.82V242.88H91.06V242.95H92.17V243.02H92.8V243.06H93.57V243.11H94.77V243.19H96.32V243.24H97.47V243.27H99.04V243.32H100.34V243.36H102.08V243.41H103.54V243.45H104.55V243.48H105.33V243.51H106.02V243.53H106.67V243.55H108.39V243.6H110.13V243.65H111.71V243.7H112.45V243.73H113.91V243.78H114.67V243.8H116.43V243.86H117.88V243.91H119.46V243.96H120.85V244H121.99V244.04H123.69V244.09H125.54V244.15H126.46V244.18H127.63V244.22H129.18V244.27H130.66V244.3H131.8V244.31H132.98V244.32H134.84V244.33H135.8V244.33H136.67V244.34H138.17V244.35H139.13V244.35H140.89V244.36H141.92V244.37H143.72V244.38H144.81V244.39H146.56V244.4H148.14V244.4H149.69V244.41H150.57V244.42H151.38V244.42H152.02V244.43H152.86V244.43H154.33V244.44H155.01V244.44H155.92V244.45H157.25V244.46H158.06V244.46H159.08V244.47H159.98V244.47H161.46V244.48H162.21V244.49H164.11V244.5H165.49V245.71H167.02V247.78H168.33V249.57H169.58V250.2H171.44V250.2H173.21V250.2H174.87V250.2H175.51V250.2H176.88V250.2H178.7V250.2H180.13V250.2H181.4V250.2H182.84V250.2H183.67V250.2H185.22V250.2H186.84V250.2H187.53V250.2H188.8V250.2H190.17V250.2H191.23V250.2H192.71V250.2H194.51V250.2H196.29V250.2H197.29V250.2H198.09V250.2H198.3V250.2" fill="none" stroke="#e86a5e" stroke-width="1.1" stroke-linejoin="round"/>
<path d="M31.2 216.1H32.63V216.87H33.26V217.21H34.22V217.73H35.11V218.21H36.67V219.05H38.15V219.85H39.91V220.8H40.62V221.18H41.77V221.8H42.41V222.15H43.29V222.62H44.55V223.3H45.18V223.62H46.04V223.83H47.49V224.19H48.8V224.51H49.68V224.73H51.05V225.07H52.7V225.48H53.31V225.63H54.96V226.04H56.46V226.41H57.51V226.67H58.31V226.86H60.15V227.32H61.19V227.58H61.91V227.75H62.64V227.91H64.34V228.25H65.72V228.52H67.37V228.85H68.92V229.16H70.22V229.41H72.08V229.79H73.18V230H74.49V230.26H76.17V230.6H77.58V230.88H79.3V231.21H80.65V231.42H82.16V231.64H82.82V231.74H83.72V231.87H84.69V232.02H85.4V232.12H86.3V232.26H87.03V232.37H87.99V232.51H89.42V232.72H90.49V232.88H91.58V233.04H92.45V233.17H93.4V233.31H95.21V233.58H96.66V233.8H98.05V234.01H98.87V234.13H100.42V234.35H101.23V234.47H102.32V234.63H104.21V234.9H105.64V235.11H106.97V235.3H108.46V235.52H110.15V235.77H111.76V236H112.66V236.13H113.3V236.23H114.31V236.37H115.26V236.51H116.13V236.64H117.96V236.9H119.7V237.16H120.71V237.24H122.16V237.32H123.27V237.38H125.06V237.48H126.26V237.55H127.2V237.6H128.12V237.65H129.45V237.72H130.39V237.78H131.75V237.85H133.52V237.95H134.64V238.01H135.53V238.06H137.42V238.17H138.68V238.24H139.4V238.28H140.06V238.31H140.81V238.35H142.22V238.43H143.85V238.52H145V238.59H145.68V238.62H146.78V238.68H148.67V238.79H149.96V238.86H151.82V238.96H153.54V239.06H154.16V239.09H155.7V239.18H157.18V239.26H158.48V239.33H159.43V239.39H160.86V239.46H161.61V239.5H162.77V239.51H163.96V239.53H165.8V239.55H167.54V239.56H168.48V239.57H169.73V239.59H170.56V239.6H172.35V239.62H174.08V239.63H175.07V239.64H176.5V239.66H177.89V239.67H178.69V239.68H180.28V239.7H181.58V239.71H183.2V239.73H184.49V239.74H185.09V239.75H186.11V239.76H186.73V239.77H188.54V239.79H190.28V239.81H191.96V239.82H192.96V239.83H193.64V239.84H195.38V239.86H197.21V239.88H197.92V239.89H199.15V239.9H199.2V239.9" fill="none" stroke="#5a8bd6" stroke-width="1.35" stroke-linejoin="round"/>
<path d="M31.2 216.1H31.85V216.42H33.36V217.17H34.14V217.56H35.34V218.16H36.82V218.89H38.45V219.7H39.64V220.29H40.88V220.91H41.51V221.22H42.67V221.79H43.76V222.33H45.46V223.09H46.77V223.42H48.36V223.82H49.52V224.12H50.35V224.33H52.06V224.76H53.72V225.18H54.81V225.46H55.54V225.64H56.8V225.96H58.05V226.27H59.65V226.68H61.03V227.03H62.29V227.34H63.63V227.6H64.72V227.82H65.39V227.95H66.07V228.09H67.89V228.45H69.58V228.79H70.57V228.98H72.32V229.33H73.6V229.59H74.33V229.73H76.05V230.07H77.41V230.34H79.22V230.7H80.7V230.91H81.42V231.01H82.83V231.2H84.46V231.43H86.23V231.67H87.26V231.81H88.54V231.99H90.06V232.2H90.87V232.31H92.58V232.55H94.19V232.77H94.86V232.87H96.22V233.05H97.3V233.2H98.14V233.32H99.53V233.54H101.39V233.82H102.71V234.03H103.46V234.14H104.7V234.33H106.31V234.58H108.15V234.86H109.68V235.1H110.34V235.2H112.19V235.49H113.58V235.7H114.28V235.81H115.05V235.93H115.76V236.04H117.23V236.26H118.03V236.39H119.68V236.64H120.42V236.75H121.71V236.95H122.89V237.14H123.54V237.24H124.14V237.33H125.92V237.6H127.79V237.83H128.55V237.88H130.1V237.97H131.99V238.08H133.76V238.18H135.51V238.29H136.55V238.35H138.09V238.44H139.33V238.51H141.15V238.62H142.67V238.71H144.36V238.8H146.08V238.9H147.18V238.97H148.7V239.06H149.43V239.1H150.29V239.15H152.11V239.26H153.24V239.32H154.73V239.41H156.08V239.49H157.01V239.54H158.38V239.62H160.16V239.73H161.19V239.79H162.24V239.85H163.08V239.9H163.91V239.95H165.59V240.05H167.11V240.11H168.96V240.14H170.43V240.16H172.28V240.19H173.17V240.2H174.01V240.22H174.89V240.23H175.99V240.25H177.88V240.28H178.77V240.29H179.96V240.31H180.64V240.32H181.28V240.33H182.59V240.35H183.99V240.37H185.25V240.39H187.04V240.42H188.76V240.45H190.6V240.48H191.95V240.5H192.1V243.6H192.89V243.6H193.66V243.6H195.25V243.6H196.05V243.6H196.66V243.6H198.17V243.6H198.93V243.6H200.34V243.6H201V243.6" fill="none" stroke="#2fa65e" stroke-width="1.35" stroke-linejoin="round"/>
<text x="171.5" y="232.7" font-size="8.8" fill="#4a78c6" stroke="#4a78c6" stroke-width="0.15">4~8</text>
<text x="175" y="249.9" font-size="8.8" fill="#2fa062" stroke="#2fa062" stroke-width="0.15">&gt;8</text>
<text x="174.7" y="267.5" font-size="8.8" fill="#d4783a" stroke="#d4783a" stroke-width="0.15">&lt;4</text>
<text x="26.3" y="277.3" font-size="11.7" fill="#1a1a1a" stroke="#1a1a1a" stroke-width="0.1">P=0.047</text>
<path d="M231.3 213V288.5H409.4" fill="none" stroke="#888" stroke-width="0.9"/>
<text x="229.6" y="218.25" font-size="6.9" text-anchor="end" fill="#3d3d3d">1.00</text>
<text x="229.6" y="235.5" font-size="6.9" text-anchor="end" fill="#3d3d3d">0.75</text>
<text x="229.6" y="252.75" font-size="6.9" text-anchor="end" fill="#3d3d3d">0.50</text>
<text x="229.6" y="270" font-size="6.9" text-anchor="end" fill="#3d3d3d">0.25</text>
<text x="229.6" y="287.25" font-size="6.9" text-anchor="end" fill="#3d3d3d">0.00</text>
<text x="239.1" y="297.6" font-size="8.5" text-anchor="middle" fill="#222" stroke="#222" stroke-width="0.2">0</text>
<text x="278.8" y="297.6" font-size="8.5" text-anchor="middle" fill="#222" stroke="#222" stroke-width="0.2">40</text>
<text x="319.2" y="297.6" font-size="8.5" text-anchor="middle" fill="#222" stroke="#222" stroke-width="0.2">80</text>
<text x="358.7" y="297.6" font-size="8.5" text-anchor="middle" fill="#222" stroke="#222" stroke-width="0.2">120</text>
<text x="400.1" y="297.6" font-size="8.5" text-anchor="middle" fill="#222" stroke="#222" stroke-width="0.2">160</text>
<path d="M229.4 216.2H231.3M229.4 233.45H231.3M229.4 250.7H231.3M229.4 267.95H231.3M229.4 285.2H231.3M239.1 288.5V290.4M279.3 288.5V290.4M320.4 288.5V290.4M360.6 288.5V290.4M401.6 288.5V290.4" fill="none" stroke="#888" stroke-width="0.9"/>
<text x="321.9" y="306.3" font-size="8.2" text-anchor="middle" fill="#1e1e1e" stroke="#1e1e1e" stroke-width="0.2">Time(month)</text>
<text transform="translate(214.9 251.6) rotate(-90)" font-size="8.3" text-anchor="middle" fill="#2a2a2a" stroke="#2a2a2a" stroke-width="0.08">Cumulative mortality</text>
<text x="208.7" y="209.2" font-size="8.5" font-weight="bold" fill="#111" stroke="#111" stroke-width="0.1">F</text>
<path d="M238 285H239.87V284.12H240.54V283.8H242.09V283.08H243.32V282.49H245.14V281.58H246.27V281.02H248.06V280.12H248.87V279.71H250.76V278.77H251.9V278.2H252.74V277.78H253.79V277.38H255.21V276.93H255.85V276.73H256.96V276.38H257.57V276.18H258.26V275.96H259.08V275.7H259.98V275.42H260.94V275.12H262.55V274.61H263.69V274.3H265.41V273.96H267.17V273.61H268.94V273.25H270.77V272.89H272.12V272.62H273.59V272.32H275.34V271.98H276.64V271.72H277.43V271.56H278.7V271.31H279.99V271.05H280.83V270.89H281.55V270.75H282.39V270.58H283.89V270.33H285.55V270.13H287V269.96H288.16V269.82H288.8V269.75H289.4V269.68H290.85V269.5H292.14V269.35H293.34V269.21H294.16V269.18H294.92V269.15H295.75V269.13H296.52V269.11H297.9V269.06H298.9V269.03H300.22V268.97H301.38V268.81H302.69V268.62H304.26V268.4H305.87V268.17H306.67V268.06H308.51V267.8H310.22V267.56H311.89V267.33H313.08V267.16H314.92V266.9H316.57V266.67H317.48V266.54H318.98V266.33H320.68V266.09H322.26V265.87H324.03V265.62H325.32V265.44H326.79V265.23H327.49V265.13H328.95V264.93H329.74V264.82H331.28V264.6H333.05V264.44H334.14V264.39H334.83V264.35H335.49V264.31H336.76V264.25H337.56V264.2H339.12V264.12H340.51V264.04H341.76V263.98H343.24V263.9H344.03V263.86H345.23V263.79H345.89V263.76H347.2V263.69H348.83V263.6H349.63V263.56H351.13V263.48H353.02V263.38H354.04V263.32H354.91V263.27H355.84V263.22H357.52V263.2H358.23V263.2H359.83V263.2H360.77V263.2H362.36V263.2H364.11V263.2H365.81V263.2H366.66V263.2H367.97V263.2H368.99V263.2H370.72V263.2H371.71V263.2H372.53V263.2H373.66V263.2H374.37V263.2H375.26V263.2H376.77V263.2H377.8V263.2H378.64V263.2H380.45V263.2H381.39V263.2H383.02V263.2H384.51V263.2H385.84V263.2H387.28V263.2H388.64V263.2H390.33V263.2H391.83V263.2H392.78V263.2H394.23V263.2H395.2V261.8H395.49V261.8H397.29V261.8H398.04V261.8H399.23V261.8H401.09V261.8H401.77V261.8H403.2V261.8" fill="none" stroke="#3e9e48" stroke-width="1.35" stroke-linejoin="round"/>
<path d="M238 285H238.92V284.53H240.17V283.89H240.98V283.48H242.65V282.63H243.55V282.18H244.87V281.52H246.67V280.61H247.79V280.06H249.65V279.13H251.2V278.35H252.51V277.7H253.93V277.15H255.29V276.75H256.36V276.43H258.25V275.87H259.38V275.54H261.26V274.98H262.96V274.47H263.6V274.32H264.54V274.13H265.76V273.89H267.42V273.56H268.25V273.39H269.65V273.11H270.73V272.89H272.35V272.57H274.15V272.21H275.74V271.9H276.59V271.73H278.18V271.41H279.35V271.18H281.04V270.85H282.25V270.61H284.03V270.31H285.91V270.09H287.58V269.89H289.26V269.69H290.92V269.49H292.29V269.33H293.12V269.23H295V269.22H296.2V269.24H296.83V269.25H297.99V269.27H299.13V269.29H299.99V269.3H301.84V269.15H302.59V269.08H304.36V268.93H305.68V268.82H306.51V268.75H307.57V268.66H308.76V268.57H309.51V268.5H311.1V268.37H312.55V268.25H314.43V268.09H316.11V267.95H317.73V267.81H319.62V267.65H321.44V267.5H322.87V267.38H324.17V267.27H325.46V267.17H327.11V267.03H328.92V266.88H330.6V266.73H332.29V266.6H332.92V266.6H334.07V266.6H334.78V266.6H336.14V266.6H337.5V266.6H338.83V266.6H340.54V266.6H341.43V266.6H342.98V266.6H344.34V266.6H345.22V266.6H347.09V266.6H347.76V266.6H348.97V266.6H350.26V266.6H351.64V266.6H353.51V266.6H354.83V266.6H356.58V266.6H357.57V266.6H358.79V266.6H359.58V266.6H361.01V266.6H362.16V266.6H363.78V266.6H364.53V266.6H365.73V266.6H367.58V266.6H368.19V266.6H369.65V266.6H371.13V266.6H372.68V266.6H374V266.6H375.25V266.6H377.1V266.6H378.07V266.6H379.58V266.6H381.05V266.6H382.6V266.6H383.82V266.6H384.44V266.6H386.05V266.6H387.01V266.6H388.63V266.6H390.51V266.6H392.12V266.6H393.25V266.6H394.96V266.6H396.06V266.6H397.08V266.6H398.42V266.6H399.87V266.6H401.36V266.6H401.9V266.6" fill="none" stroke="#2b3cbd" stroke-width="1.35" stroke-linejoin="round"/>
<path d="M238 285H239.4V283.74H241.16V282.15H242.35V281.07H243.88V279.75H245.7V278.24H246.97V277.17H248.53V275.88H250.07V274.79H251.79V273.72H252.44V273.31H253.26V272.8H255.15V271.62H256.72V270.64H257.66V270.18H259.23V269.59H260.05V269.27H261.12V268.86H262.29V268.41H263.19V268.07H263.97V267.77H265.23V267.29H266.67V266.93H267.68V266.68H269.14V266.32H271.02V265.85H271.69V265.68H272.65V265.44H273.37V265.25H274.85V264.81H275.98V264.47H277.16V264.13H278.08V263.85H279.69V263.37H281.27V262.9H282.45V262.55H284.13V262.12H285.03V261.92H286.08V261.68H287.92V261.27H288.82V261.07H289.6V260.9H290.25V260.76H291.72V260.5H293.39V260.5H294.05V260.5H295.28V260.5H296.39V260.5H297.42V260.5H298.32V260.5H299.42V260.5H300.21V260.5H302V260.5H302.86V260.5H304.16V260.5H305.59V260.5H307.05V260.5H308.26V260.5H309.54V260.5H311.36V260.5H312.19V260.5H313.05V260.5H314.04V260.5H315.6V260.5H316.75V260.5H317.86V260.5H318.56V260.5H319.32V260.5H320.77V260.5H321.67V260.5H322.87V260.5H323.78V260.5H324.78V260.5H325.63V260.5H327.41V260.5H328.82V260.5H330.05V260.5H330.95V260.5H332.64V260.5H333.97V260.5H334.74V260.5H335.58V260.5H337.41V260.5H338.43V260.5H339.57V260.5H340.29V260.5H342.03V260.5H342.95V260.5H344.28V260.5H345.82V260.5H347.12V260.5H348.21V260.5H349.15V260.5H350.65V260.5H351.58V260.5H352.98V260.5H354.83V260.5H356.63V260.5H358.1V260.5H359.47V260.5H360.28V260.5H361.94V260.5H363.72V260.5H364.77V260.5H365.45V260.5H366.74V260.5H367.9V260.5H369.61V260.5H371.19V260.5H372.35V260.5H373.64V260.5H374.86V260.5H376.32V260.5H377.76V260.5H379.21V260.5H380.1V260.5H381.74V260.5H382.41V260.5H383.35V260.5H384.67V260.5H385.31V260.5H386.69V260.5H387.71V260.5H388.75V260.5H389.45V260.5H390.54V260.5H391.9V260.5H392.56V260.5H394.25V260.5H396.12V260.5H397.4V260.5H398.72V260.5H400.38V260.5H400.5V260.5" fill="none" stroke="#e63c3c" stroke-width="1.35" stroke-linejoin="round"/>
<text x="374.7" y="256.1" font-size="8.8" fill="#d4783a" stroke="#d4783a" stroke-width="0.15">&lt;4</text>
<text x="339.9" y="275.5" font-size="8.8" fill="#2fa062" stroke="#2fa062" stroke-width="0.15">&gt;8</text>
<text x="373.4" y="277.1" font-size="8.8" fill="#4a78c6" stroke="#4a78c6" stroke-width="0.15">4~8</text>
<text x="240" y="229.2" font-size="11.7" fill="#1a1a1a" stroke="#1a1a1a" stroke-width="0.1">P=0.020</text>
<path d="M23.3 314.1V389.6H201.4" fill="none" stroke="#888" stroke-width="0.9"/>
<text x="21.6" y="319.35" font-size="6.9" text-anchor="end" fill="#3d3d3d">1.00</text>
<text x="21.6" y="336.6" font-size="6.9" text-anchor="end" fill="#3d3d3d">0.75</text>
<text x="21.6" y="353.85" font-size="6.9" text-anchor="end" fill="#3d3d3d">0.50</text>
<text x="21.6" y="371.1" font-size="6.9" text-anchor="end" fill="#3d3d3d">0.25</text>
<text x="21.6" y="388.35" font-size="6.9" text-anchor="end" fill="#3d3d3d">0.00</text>
<text x="31.1" y="398.7" font-size="8.5" text-anchor="middle" fill="#222" stroke="#222" stroke-width="0.2">0</text>
<text x="70.8" y="398.7" font-size="8.5" text-anchor="middle" fill="#222" stroke="#222" stroke-width="0.2">40</text>
<text x="111.2" y="398.7" font-size="8.5" text-anchor="middle" fill="#222" stroke="#222" stroke-width="0.2">80</text>
<text x="150.7" y="398.7" font-size="8.5" text-anchor="middle" fill="#222" stroke="#222" stroke-width="0.2">120</text>
<text x="192.1" y="398.7" font-size="8.5" text-anchor="middle" fill="#222" stroke="#222" stroke-width="0.2">160</text>
<path d="M21.4 317.3H23.3M21.4 334.55H23.3M21.4 351.8H23.3M21.4 369.05H23.3M21.4 386.3H23.3M31.1 389.6V391.5M71.3 389.6V391.5M112.4 389.6V391.5M152.6 389.6V391.5M193.6 389.6V391.5" fill="none" stroke="#888" stroke-width="0.9"/>
<text x="113.9" y="407.4" font-size="8.2" text-anchor="middle" fill="#1e1e1e" stroke="#1e1e1e" stroke-width="0.2">Time(month)</text>
<text transform="translate(7 349.4) rotate(-90)" font-size="8.3" text-anchor="middle" fill="#2a2a2a" stroke="#2a2a2a" stroke-width="0.08">Survival probability</text>
<text x="0.2" y="310.3" font-size="8.5" font-weight="bold" fill="#111" stroke="#111" stroke-width="0.1">G</text>
<path d="M31.2 317.9H32.44V318.22H33.77V318.57H35.42V319H36.44V319.27H37.45V319.53H38.95V319.93H40.19V320.25H41.25V320.53H42.38V320.82H43.41V321.09H44.23V321.3H45.65V321.64H47.41V321.98H48.91V322.28H50.33V322.56H51.37V322.76H52.53V322.99H53.32V323.15H54.87V323.45H55.85V323.66H56.83V323.87H58.71V324.28H59.75V324.51H61.62V324.92H63.03V325.23H64.62V325.58H66.03V325.84H66.86V325.97H68.39V326.21H69.33V326.35H70.46V326.53H71.23V326.65H71.9V326.76H72.98V326.93H73.6V327.03H74.7V327.2H76.41V327.4H78.3V327.59H79.45V327.7H80.19V327.78H81.24V327.91H81.93V328H82.81V328.11H84.22V328.29H85.62V328.46H86.26V328.52H87.49V328.63H88.64V328.74H89.76V328.84H90.54V328.91H91.65V329.02H92.38V329.09H93.87V329.22H95.32V329.38H96.73V329.59H97.86V329.76H99.71V330.03H100.79V330.19H101.65V330.32H102.74V330.48H104.52V330.75H105.33V330.87H106.92V331.11H108.74V331.38H110.45V331.64H111.65V331.82H112.84V331.99H114.57V332.25H116.1V332.48H117.74V332.73H118.58V332.81H119.97V332.9H121.53V333.02H122.44V333.08H123.31V333.14H125V333.26H126.34V333.36H127.47V333.44H128.7V333.52H129.64V333.59H130.56V333.65H131.3V333.71H132.42V333.79H133.21V333.84H134.98V333.97H136.82V334.1H138.19V334.19H138.9V334.24H140.28V334.34H141.08V334.4H142.17V334.47H142.93V334.53H144.18V334.62H144.88V334.67H145.84V334.73H146.75V334.78H147.95V334.83H149.76V334.91H151.11V334.98H152.73V335.07H154.27V335.15H155.56V335.21H156.25V335.25H156.93V335.29H157.7V335.33H158.97V335.39H160.02V335.45H161.83V335.54H162.68V335.59H163.46V335.63H164.89V335.7H166.28V335.74H166.95V335.73H167.99V335.73H169.17V335.72H170.84V335.72H172.45V335.71H174.19V335.7H175.49V335.7H177.31V335.69H178.52V335.69H179.49V335.68H180.28V335.68H181.96V335.67H183.4V335.67H184.8V335.66H186.68V335.66H188.1V335.65H189.1V335.65H190.6V335.64H192.41V335.63H193.24V335.63H195.07V335.62H196.21V335.62H196.95V335.61H198.22V335.61H199.83V335.6H200.6V335.6V341.6V341.6H199.83V341.59H198.22V341.59H196.95V341.58H196.21V341.58H195.07V341.57H193.24V341.57H192.41V341.56H190.6V341.55H189.1V341.55H188.1V341.54H186.68V341.54H184.8V341.53H183.4V341.53H181.96V341.52H180.28V341.52H179.49V341.51H178.52V341.51H177.31V341.5H175.49V341.5H174.19V341.49H172.45V341.48H170.84V341.48H169.17V341.47H167.99V341.47H166.95V341.46H166.28V341.42H164.89V341.33H163.46V341.29H162.68V341.23H161.83V341.13H160.02V341.06H158.97V340.99H157.7V340.94H156.93V340.9H156.25V340.86H155.56V340.78H154.27V340.69H152.73V340.59H151.11V340.51H149.76V340.39H147.95V340.3H146.75V340.24H145.84V340.15H144.88V340.08H144.18V339.97H142.93V339.9H142.17V339.79H141.08V339.72H140.28V339.59H138.9V339.52H138.19V339.4H136.82V339.22H134.98V339.06H133.21V338.98H132.42V338.88H131.3V338.81H130.56V338.72H129.64V338.64H128.7V338.52H127.47V338.41H126.34V338.29H125V338.13H123.31V338.05H122.44V337.96H121.53V337.82H119.97V337.69H118.58V337.59H117.74V337.31H116.1V337.04H114.57V336.74H112.84V336.54H111.65V336.33H110.45V336.04H108.74V335.73H106.92V335.45H105.33V335.31H104.52V335H102.74V334.82H101.65V334.67H100.79V334.48H99.71V334.16H97.86V333.97H96.73V333.73H95.32V333.54H93.87V333.37H92.38V333.28H91.65V333.16H90.54V333.07H89.76V332.94H88.64V332.8H87.49V332.66H86.26V332.59H85.62V332.38H84.22V332.17H82.81V332.04H81.93V331.94H81.24V331.78H80.19V331.65H79.45V331.45H78.3V331.11H76.41V330.76H74.7V330.5H73.6V330.35H72.98V330.1H71.9V329.93H71.23V329.75H70.46V329.48H69.33V329.26H68.39V328.89H66.86V328.69H66.03V328.32H64.62V327.84H63.03V327.42H61.62V326.85H59.75V326.54H58.71V325.98H56.83V325.68H55.85V325.39H54.87V324.96H53.32V324.74H52.53V324.42H51.37V324.13H50.33V323.73H48.91V323.31H47.41V322.82H45.65V322.37H44.23V322.09H43.41V321.74H42.38V321.35H41.25V320.98H40.19V320.56H38.95V320.05H37.45V319.7H36.44V319.35H35.42V318.78H33.77V318.33H32.44V317.9H31.2Z" fill="#fcd9d5" stroke="none"/>
<path d="M31.2 317.9H33.01V320.02H33.83V320.98H35.69V323H36.6V323.81H37.81V324.89H39.57V326.46H40.64V327.59H41.9V328.9H42.71V329.68H44.56V331.47H46.44V333.29H47.26V334.05H48.02V334.64H49.23V335.58H50.51V336.56H52.12V337.8H53.16V338.61H54.53V339.67H55.34V340.28H56.21V340.88H56.92V341.36H58.23V342.25H59.56V343.16H60.96V344.12H62.78V345.36H63.77V345.91H64.82V346.37H66.02V346.89H67.85V347.7H68.85V348.14H69.83V348.57H70.98V349.11H72.48V349.64H73.44V349.96H74.27V350.23H75.82V350.74H77.17V351.18H78.52V351.42H79.14V351.53H80.06V351.7H80.79V351.83H81.87V352.02H83.65V352.34H85.53V352.68H87.23V352.99H88.31V353.21H89.65V353.48H91.41V353.84H92.46V354.05H93.58V354.28H95.11V354.6H96.15V354.9H97.37V355.25H98.44V355.56H100.11V356.04H101.38V356.45H102.11V356.69H102.73V356.89H104.17V357.35H104.92V357.59H106.39V358.07H107.28V358.35H108.57V358.77H109.61V359.1H111.07V359.57H111.84V359.82H112.97V360.06H114.42V360.2H115.36V360.3H117.25V360.48H119.14V360.67H121V360.86H122.81V361.04H124.63V361.22H125.97V361.36H127.66V362.3H128.79V363.11H129.48V361.8H131.28V361.8H133.07V361.8H134.01V361.8H135.1V361.8H136V361.8H137.53V361.8H138.35V361.8H140.01V361.8H140.65V361.8H141.78V361.8H143.4V361.8H144.63V361.8H145.41V361.8H146.04V361.8H147.53V361.8H148.23V361.8H149.19V361.8H150.58V361.8H151.58V361.8H152.23V361.8H153.86V361.8H155.4V361.8H156.8V361.8H157.53V361.8H158.76V361.8H160.61V361.8H161.87V361.8H162.81V361.8H164.62V361.8H165.67V361.8H166.95V361.8H167.77V361.8H169.49V361.8H170.98V361.8H172.27V361.8H173.51V361.8H174.55V361.8H175.75V361.8H177.01V361.8H177.64V361.8H179.16V361.8H180.74V361.8H181.38V361.8H182.16V361.8H183.68V361.8H184.73V361.8H185.52V361.8H187.03V361.8H188.9V361.8H189.96V361.8H191.33V361.8H192.65V361.8H193.97V361.8H195.35V361.8H197.13V361.8H198.85V361.8H199.2V361.8V373.9V373.9H198.85V373.9H197.13V373.9H195.35V373.9H193.97V373.9H192.65V373.9H191.33V373.9H189.96V373.9H188.9V373.9H187.03V373.9H185.52V373.9H184.73V373.9H183.68V373.9H182.16V373.9H181.38V373.9H180.74V373.9H179.16V373.9H177.64V373.9H177.01V373.9H175.75V373.9H174.55V373.9H173.51V373.9H172.27V373.9H170.98V373.9H169.49V373.9H167.77V373.9H166.95V373.9H165.67V373.9H164.62V373.9H162.81V373.9H161.87V373.9H160.61V373.9H158.76V373.9H157.53V373.9H156.8V373.9H155.4V373.9H153.86V373.9H152.23V373.9H151.58V373.9H150.58V373.9H149.19V373.9H148.23V373.9H147.53V373.9H146.04V373.9H145.41V373.9H144.63V373.9H143.4V373.9H141.78V373.9H140.65V373.9H140.01V373.9H138.35V373.9H137.53V373.9H136V373.9H135.1V373.9H134.01V373.9H133.07V373.9H131.28V373.9H129.48V374.51H128.79V373.71H127.66V372.78H125.97V372.65H124.63V372.48H122.81V372.31H121V372.14H119.14V371.97H117.25V371.79H115.36V371.7H114.42V371.57H112.97V371.34H111.84V371.09H111.07V370.64H109.61V370.31H108.57V369.9H107.28V369.62H106.39V369.16H104.92V368.92H104.17V368.47H102.73V368.27H102.11V368.05H101.38V367.64H100.11V367.08H98.44V366.71H97.37V366.29H96.15V365.94H95.11V365.54H93.58V365.25H92.46V364.98H91.41V364.53H89.65V364.18H88.31V363.91H87.23V363.51H85.53V363.07H83.65V362.66H81.87V362.41H80.79V362.23H80.06V362.02H79.14V361.87H78.52V361.56H77.17V361.05H75.82V360.46H74.27V360.15H73.44V359.78H72.48V359.16H70.98V358.54H69.83V357.98H68.85V357.41H67.85V356.36H66.02V355.67H64.82V355.08H63.77V354.4H62.78V352.92H60.96V351.77H59.56V350.68H58.23V349.62H56.92V349.04H56.21V348.33H55.34V347.61H54.53V346.37H53.16V345.42H52.12V343.96H50.51V342.81H49.23V341.71H48.02V341.02H47.26V340.14H46.44V338.08H44.56V336.04H42.71V335.15H41.9V333.67H40.64V332.17H39.57V329.39H37.81V327.5H36.6V326.06H35.69V322.78H33.83V321.25H33.01V317.9H31.2Z" fill="#ade9e9" stroke="none"/>
<path d="M31.2 317.9H32.44V318.28H33.77V318.68H35.42V319.17H36.44V319.48H37.45V319.79H38.95V320.24H40.19V320.62H41.25V320.94H42.38V321.28H43.41V321.59H44.23V321.84H45.65V322.23H47.41V322.65H48.91V323H50.33V323.34H51.37V323.59H52.53V323.87H53.32V324.05H54.87V324.42H55.85V324.67H56.83V324.92H58.71V325.41H59.75V325.68H61.62V326.17H63.03V326.53H64.62V326.95H66.03V327.26H66.86V327.43H68.39V327.73H69.33V327.92H70.46V328.14H71.23V328.29H71.9V328.43H72.98V328.64H73.6V328.76H74.7V328.98H76.41V329.25H78.3V329.52H79.45V329.68H80.19V329.78H81.24V329.92H81.93V330.02H82.81V330.14H84.22V330.34H85.62V330.52H86.26V330.59H87.49V330.72H88.64V330.84H89.76V330.95H90.54V331.03H91.65V331.15H92.38V331.23H93.87V331.38H95.32V331.55H96.73V331.78H97.86V331.96H99.71V332.26H100.79V332.43H101.65V332.57H102.74V332.74H104.52V333.03H105.33V333.16H106.92V333.42H108.74V333.71H110.45V333.99H111.65V334.18H112.84V334.37H114.57V334.65H116.1V334.89H117.74V335.16H118.58V335.25H119.97V335.36H121.53V335.49H122.44V335.56H123.31V335.64H125V335.77H126.34V335.88H127.47V335.98H128.7V336.08H129.64V336.16H130.56V336.23H131.3V336.29H132.42V336.38H133.21V336.45H134.98V336.59H136.82V336.75H138.19V336.86H138.9V336.92H140.28V337.03H141.08V337.1H142.17V337.19H142.93V337.25H144.18V337.35H144.88V337.41H145.84V337.49H146.75V337.54H147.95V337.61H149.76V337.71H151.11V337.79H152.73V337.88H154.27V337.96H155.56V338.04H156.25V338.08H156.93V338.11H157.7V338.16H158.97V338.23H160.02V338.29H161.83V338.39H162.68V338.44H163.46V338.48H164.89V338.56H166.28V338.6H166.95V338.6H167.99V338.6H169.17V338.6H170.84V338.6H172.45V338.6H174.19V338.6H175.49V338.6H177.31V338.6H178.52V338.6H179.49V338.6H180.28V338.6H181.96V338.6H183.4V338.6H184.8V338.6H186.68V338.6H188.1V338.6H189.1V338.6H190.6V338.6H192.41V338.6H193.24V338.6H195.07V338.6H196.21V338.6H196.95V338.6H198.22V338.6H199.83V338.6H200.6V338.6" fill="none" stroke="#ee7a6d" stroke-width="1.35" stroke-linejoin="round"/>
<path d="M31.2 317.9H33.01V320.63H33.83V321.88H35.69V324.53H36.6V325.65H37.81V327.14H39.57V329.32H40.64V330.63H41.9V332.02H42.71V332.86H44.56V334.77H46.44V336.72H47.26V337.53H48.02V338.17H49.23V339.19H50.51V340.26H52.12V341.61H53.16V342.49H54.53V343.64H55.34V344.3H56.21V344.96H56.92V345.49H58.23V346.47H59.56V347.47H60.96V348.52H62.78V349.88H63.77V350.49H64.82V351.02H66.02V351.63H67.85V352.55H68.85V353.06H69.83V353.56H70.98V354.14H72.48V354.73H73.44V355.08H74.27V355.37H75.82V355.94H77.17V356.41H78.52V356.7H79.14V356.84H80.06V357.03H80.79V357.19H81.87V357.42H83.65V357.8H85.53V358.2H87.23V358.56H88.31V358.82H89.65V359.13H91.41V359.55H92.46V359.8H93.58V360.06H95.11V360.43H96.15V360.77H97.37V361.16H98.44V361.51H100.11V362.04H101.38V362.45H102.11V362.69H102.73V362.89H104.17V363.35H104.92V363.59H106.39V364.07H107.28V364.35H108.57V364.77H109.61V365.1H111.07V365.57H111.84V365.82H112.97V366.06H114.42V366.2H115.36V366.3H117.25V366.48H119.14V366.67H121V366.86H122.81V367.04H124.63V367.22H125.97V367.36H127.66V368.3H128.79V369.11H129.48V369.4H131.28V369.4H133.07V369.4H134.01V369.4H135.1V369.4H136V369.4H137.53V369.4H138.35V369.4H140.01V369.4H140.65V369.4H141.78V369.4H143.4V369.4H144.63V369.4H145.41V369.4H146.04V369.4H147.53V369.4H148.23V369.4H149.19V369.4H150.58V369.4H151.58V369.4H152.23V369.4H153.86V369.4H155.4V369.4H156.8V369.4H157.53V369.4H158.76V369.4H160.61V369.4H161.87V369.4H162.81V369.4H164.62V369.4H165.67V369.4H166.95V369.4H167.77V369.4H169.49V369.4H170.98V369.4H172.27V369.4H173.51V369.4H174.55V369.4H175.75V369.4H177.01V369.4H177.64V369.4H179.16V369.4H180.74V369.4H181.38V369.4H182.16V369.4H183.68V369.4H184.73V369.4H185.52V369.4H187.03V369.4H188.9V369.4H189.96V369.4H191.33V369.4H192.65V369.4H193.97V369.4H195.35V369.4H197.13V369.4H198.85V369.4H199.2V369.4" fill="none" stroke="#1cb5b5" stroke-width="1.35" stroke-linejoin="round"/>
<text x="172.3" y="352.3" font-size="8.8" fill="#d4783a" stroke="#d4783a" stroke-width="0.15">N0</text>
<text x="173.2" y="383.9" font-size="8.8" fill="#4a78c6" stroke="#4a78c6" stroke-width="0.15">N1</text>
<text x="26.3" y="378.3" font-size="11.7" fill="#1a1a1a" stroke="#1a1a1a" stroke-width="0.1">P&lt;0.0001</text>
<path d="M231.3 314.1V389.6H409.4" fill="none" stroke="#888" stroke-width="0.9"/>
<text x="229.6" y="319.35" font-size="6.9" text-anchor="end" fill="#3d3d3d">1.00</text>
<text x="229.6" y="336.6" font-size="6.9" text-anchor="end" fill="#3d3d3d">0.75</text>
<text x="229.6" y="353.85" font-size="6.9" text-anchor="end" fill="#3d3d3d">0.50</text>
<text x="229.6" y="371.1" font-size="6.9" text-anchor="end" fill="#3d3d3d">0.25</text>
<text x="229.6" y="388.35" font-size="6.9" text-anchor="end" fill="#3d3d3d">0.00</text>
<text x="239.1" y="398.7" font-size="8.5" text-anchor="middle" fill="#222" stroke="#222" stroke-width="0.2">0</text>
<text x="278.8" y="398.7" font-size="8.5" text-anchor="middle" fill="#222" stroke="#222" stroke-width="0.2">40</text>
<text x="319.2" y="398.7" font-size="8.5" text-anchor="middle" fill="#222" stroke="#222" stroke-width="0.2">80</text>
<text x="358.7" y="398.7" font-size="8.5" text-anchor="middle" fill="#222" stroke="#222" stroke-width="0.2">120</text>
<text x="400.1" y="398.7" font-size="8.5" text-anchor="middle" fill="#222" stroke="#222" stroke-width="0.2">160</text>
<path d="M229.4 317.3H231.3M229.4 334.55H231.3M229.4 351.8H231.3M229.4 369.05H231.3M229.4 386.3H231.3M239.1 389.6V391.5M279.3 389.6V391.5M320.4 389.6V391.5M360.6 389.6V391.5M401.6 389.6V391.5" fill="none" stroke="#888" stroke-width="0.9"/>
<text x="321.9" y="407.4" font-size="8.2" text-anchor="middle" fill="#1e1e1e" stroke="#1e1e1e" stroke-width="0.2">Time(month)</text>
<text transform="translate(214.9 352.7) rotate(-90)" font-size="8.3" text-anchor="middle" fill="#2a2a2a" stroke="#2a2a2a" stroke-width="0.08">Cumulative mortality</text>
<text x="208.7" y="310.3" font-size="8.5" font-weight="bold" fill="#111" stroke="#111" stroke-width="0.1">H</text>
<path d="M238.5 386.4H239.52V384.77H240.93V382.52H241.54V381.51H243.42V378.4H245.08V375.61H246.98V373.18H247.93V372.41H248.78V371.71H249.46V371.17H250.31V370.47H250.94V369.71H252.44V367.79H253.51V366.42H255.17V364.57H256.76V363.46H257.82V362.73H258.63V362.16H259.69V361.5H260.33V361.13H261.77V360.29H262.62V359.79H263.41V359.33H265.16V358.33H266.33V357.82H268.16V357.03H270.04V356.22H271.5V355.58H272.42V355.18H273.22V354.84H274.14V354.21H275.69V353.11H276.96V352.22H277.95V351.52H278.57V351.09H279.63V350.42H280.74V350.05H281.43V349.81H282.35V349.5H283.33V349.16H284.48V348.77H285.72V348.35H287.05V347.9H288.76V347.32H289.74V346.97H290.46V346.71H291.46V346.35H292.34V346.03H293.69V345.55H294.91V345.11H295.92V344.74H296.65V344.48H298.22V344.05H299.63V343.91H301.04V343.78H302.56V343.63H304.27V343.47H304.92V343.41H305.76V343.3H306.97V343.15H308.49V342.95H309.74V342.79H311V342.63H312V342.5H312.91V342.39H314.65V342.16H316.53V341.92H317.78V341.76H318.98V341.61H319.75V341.51H321.13V341.33H322.01V341.16H323.42V340.83H324.38V340.61H325.59V340.33H327.32V339.93H328.32V339.7H329.62V339.4H330.63V339.16H331.86V338.88H333.59V338.8H334.83V338.8H336.68V338.8H337.81V338.8H339V338.8H340.44V338.8H341.69V338.8H343.17V338.8H344.15V338.8H344.76V338.8H345.91V338.8H346.6V338.8H347.52V338.8H348.9V338.8H350.39V338.8H352.18V338.8H353.66V338.8H354.98V338.8H356.03V338.8H357.25V338.8H358.22V338.8H358.96V338.8H360.25V338.8H361.67V338.8H362.67V338.8H364.23V338.8H365.52V338.8H366.52V338.8H368.23V338.8H368.86V338.8H369.81V338.8H370.83V338.8H372.3V338.8H373.23V338.8H375.11V338.8H375.84V338.8H377.03V338.8H378.24V338.8H379.81V338.8H380.74V338.8H381.55V338.8H383.11V338.8H384.74V338.8H386.09V338.8H387.86V338.8H388.97V338.8H390.16V338.8H391.4V338.8H392.17V338.8H393.85V338.8H394.53V338.8H395.23V338.8H397.01V338.8H398.2V338.8H398.99V338.8H400.74V338.8H401.3V338.8" fill="none" stroke="#2a2ab4" stroke-width="1.35" stroke-linejoin="round"/>
<path d="M238.5 386.4H239.2V386.18H240.57V385.75H242.45V385.16H243.5V384.83H244.81V384.43H245.9V384.1H247.46V383.62H248.95V383.16H250.33V382.74H252.2V382.17H253.71V381.69H254.75V381.36H255.85V381.01H257.27V380.56H258.77V380.08H259.66V379.8H261.31V379.27H262.49V378.9H264.1V378.39H264.82V378.16H265.83V377.97H266.45V377.86H267.59V377.68H268.52V377.53H269.58V377.36H270.46V377.21H272.17V376.94H273.59V376.68H274.65V376.47H275.9V376.22H276.74V376.05H278.56V375.69H280.34V375.33H281.68V375.06H282.48V374.9H284.32V374.65H285.2V374.55H285.87V374.48H287.02V374.35H288.11V374.23H289.81V374.04H290.6V373.95H291.28V373.87H292.46V373.74H293.11V373.67H294.57V373.51H295.81V373.37H297.54V373.17H299.36V372.97H300.26V372.88H301.89V372.74H303.14V372.64H304.97V372.48H305.67V372.42H306.87V372.32H308.74V372.16H309.41V372.11H310.41V372.02H311.41V371.94H312.48V371.85H314.37V371.69H315.22V371.62H316.89V371.47H317.84V371.39H319.58V371.25H320.37V371.18H321.1V371.12H322.98V370.96H323.6V370.91H325.03V370.79H325.9V370.71H327.25V370.6H328.26V370.52H329.67V370.4H331.15V370.27H332.73V370.17H333.49V370.14H335.17V370.08H336.08V370.05H337.45V370H339.1V369.94H340.7V369.88H341.99V369.83H343.24V369.78H344.04V369.75H345.78V369.69H347.16V369.64H348.76V369.58H350.62V369.51H352.13V369.45H353.12V369.42H354.34V369.37H355.17V369.34H356.13V369.3H357.84V369.24H359.31V369.19H360.13V369.16H361.4V369.11H362.54V369.07H364.2V369H365.88V368.94H366.94V368.9H367.65V368.9H368.49V368.9H369.82V368.9H370.9V368.9H371.54V368.9H373.11V368.9H374.51V368.9H375.53V368.9H376.17V368.9H377.23V368.9H378.6V368.9H379.28V368.9H380.02V368.9H380.67V368.9H381.31V368.9H382.71V368.9H384.24V368.9H385.67V368.9H386.68V368.9H387.74V368.9H388.36V368.9H390V368.9H391.29V368.9H392.14V368.9H392.89V368.9H393.85V368.9H394.95V368.9H395.2V367.5H396.46V367.5H397.15V367.5H398.76V367.5H399.67V367.5H400.47V367.5H401.88V367.5H402.67V367.5H403.2V367.5" fill="none" stroke="#e63c3c" stroke-width="1.35" stroke-linejoin="round"/>
<text x="374.2" y="350.6" font-size="8.8" fill="#4a78c6" stroke="#4a78c6" stroke-width="0.15">N1</text>
<text x="374.2" y="380.1" font-size="8.8" fill="#d4783a" stroke="#d4783a" stroke-width="0.15">N0</text>
<text x="240" y="330.2" font-size="11.7" fill="#1a1a1a" stroke="#1a1a1a" stroke-width="0.1">P&lt;0.0001</text>
</svg></body></html>
